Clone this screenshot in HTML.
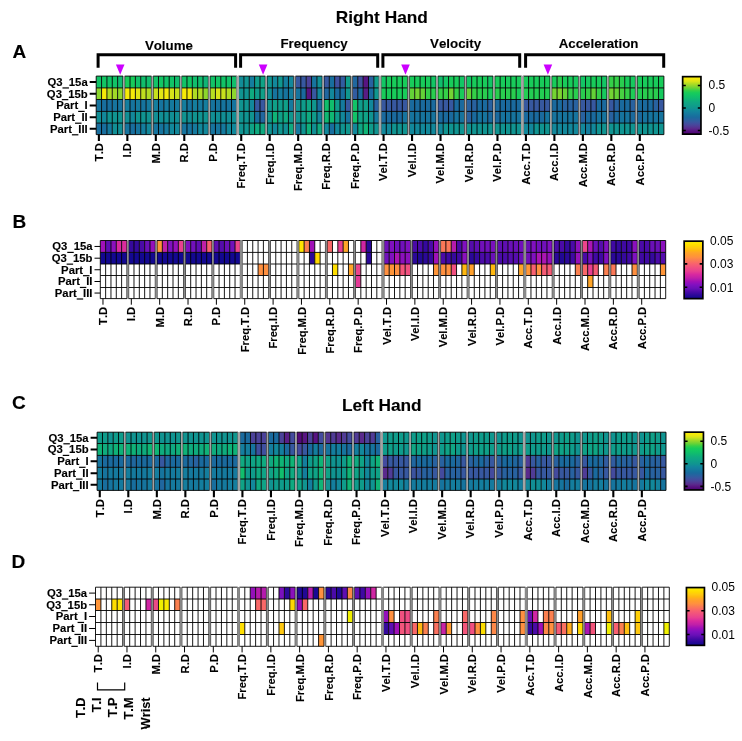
<!DOCTYPE html>
<html><head><meta charset="utf-8"><title>Heatmaps</title>
<style>html,body{margin:0;padding:0;background:#fff}svg{display:block;will-change:transform}text{fill:#000;font-kerning:none}text[font-weight=bold]{stroke:#000;stroke-width:0.12px}</style>
</head><body>
<svg width="742" height="741" viewBox="0 0 742 741">
<rect width="742" height="741" fill="#fff"/>
<text x="381.8" y="23.3" text-anchor="middle" font-size="17.3" font-weight="bold" font-family="Liberation Sans, sans-serif">Right Hand</text>
<text x="381.8" y="410.6" text-anchor="middle" font-size="17.3" font-weight="bold" font-family="Liberation Sans, sans-serif">Left Hand</text>
<text x="12.4" y="57.7" font-size="19" font-weight="bold" font-family="Liberation Sans, sans-serif">A</text>
<text x="12.5" y="227.8" font-size="19" font-weight="bold" font-family="Liberation Sans, sans-serif">B</text>
<text x="11.9" y="408.5" font-size="19" font-weight="bold" font-family="Liberation Sans, sans-serif">C</text>
<text x="11.4" y="568.0" font-size="19" font-weight="bold" font-family="Liberation Sans, sans-serif">D</text>
<path d="M98.1 67.7V54.8H235.6V67.7" stroke="#000" stroke-width="3.0" fill="none"/><text x="168.9" y="49.8" text-anchor="middle" font-size="13.3" font-weight="bold" font-family="Liberation Sans, sans-serif">Volume</text>
<path d="M240.6 67.7V54.8H377.7V67.7" stroke="#000" stroke-width="3.0" fill="none"/><text x="314.1" y="48.2" text-anchor="middle" font-size="13.3" font-weight="bold" font-family="Liberation Sans, sans-serif">Frequency</text>
<path d="M382.9 67.7V54.8H519.7V67.7" stroke="#000" stroke-width="3.0" fill="none"/><text x="455.6" y="48.2" text-anchor="middle" font-size="13.3" font-weight="bold" font-family="Liberation Sans, sans-serif">Velocity</text>
<path d="M525.6 67.7V54.8H663.7V67.7" stroke="#000" stroke-width="3.0" fill="none"/><text x="598.6" y="48.2" text-anchor="middle" font-size="13.3" font-weight="bold" font-family="Liberation Sans, sans-serif">Acceleration</text>
<path d="M115.9 64.5H124.5L120.2 74.7Z" fill="#cc00ff"/>
<path d="M258.8 64.5H267.4L263.1 74.7Z" fill="#cc00ff"/>
<path d="M401.2 64.5H409.8L405.5 74.7Z" fill="#cc00ff"/>
<path d="M543.6 64.5H552.2L547.9 74.7Z" fill="#cc00ff"/>
<rect x="96.2" y="76.1" width="5.35" height="11.8" fill="#11c367"/>
<rect x="101.55" y="76.1" width="5.35" height="11.8" fill="#12c664"/>
<rect x="106.91" y="76.1" width="10.71" height="11.8" fill="#11c367"/>
<rect x="117.62" y="76.1" width="5.35" height="11.8" fill="#10ba70"/>
<rect x="96.2" y="87.9" width="5.35" height="11.6" fill="#8cd62d"/>
<rect x="101.55" y="87.9" width="5.35" height="11.6" fill="#f6ea09"/>
<rect x="106.91" y="87.9" width="5.35" height="11.6" fill="#afdc23"/>
<rect x="112.26" y="87.9" width="5.35" height="11.6" fill="#a1da27"/>
<rect x="117.62" y="87.9" width="5.35" height="11.6" fill="#8cd62d"/>
<rect x="96.2" y="99.5" width="5.35" height="11.9" fill="#16749e"/>
<rect x="101.55" y="99.5" width="10.71" height="11.9" fill="#186e9e"/>
<rect x="112.26" y="99.5" width="10.71" height="11.9" fill="#16749e"/>
<rect x="96.2" y="111.4" width="5.35" height="11.7" fill="#118f95"/>
<rect x="101.55" y="111.4" width="5.35" height="11.7" fill="#12889b"/>
<rect x="106.91" y="111.4" width="16.06" height="11.7" fill="#109491"/>
<rect x="96.2" y="123.1" width="10.71" height="11.5" fill="#186e9e"/>
<rect x="106.91" y="123.1" width="5.35" height="11.5" fill="#157a9e"/>
<rect x="112.26" y="123.1" width="10.71" height="11.5" fill="#118f95"/>
<rect x="124.67" y="76.1" width="10.71" height="11.8" fill="#18cc5a"/>
<rect x="135.38" y="76.1" width="5.35" height="11.8" fill="#11c367"/>
<rect x="140.73" y="76.1" width="10.71" height="11.8" fill="#10be6c"/>
<rect x="124.67" y="87.9" width="10.71" height="11.6" fill="#f6ea09"/>
<rect x="135.38" y="87.9" width="5.35" height="11.6" fill="#e1e615"/>
<rect x="140.73" y="87.9" width="5.35" height="11.6" fill="#bfdf1f"/>
<rect x="146.09" y="87.9" width="5.35" height="11.6" fill="#afdc23"/>
<rect x="124.67" y="99.5" width="5.35" height="11.9" fill="#147e9e"/>
<rect x="130.02" y="99.5" width="5.35" height="11.9" fill="#16749e"/>
<rect x="135.38" y="99.5" width="5.35" height="11.9" fill="#157a9e"/>
<rect x="140.73" y="99.5" width="5.35" height="11.9" fill="#16749e"/>
<rect x="146.09" y="99.5" width="5.35" height="11.9" fill="#157a9e"/>
<rect x="124.67" y="111.4" width="5.35" height="11.7" fill="#118f95"/>
<rect x="130.02" y="111.4" width="5.35" height="11.7" fill="#12889b"/>
<rect x="135.38" y="111.4" width="16.06" height="11.7" fill="#109491"/>
<rect x="124.67" y="123.1" width="5.35" height="11.5" fill="#16749e"/>
<rect x="130.02" y="123.1" width="5.35" height="11.5" fill="#186e9e"/>
<rect x="135.38" y="123.1" width="5.35" height="11.5" fill="#16749e"/>
<rect x="140.73" y="123.1" width="5.35" height="11.5" fill="#147e9e"/>
<rect x="146.09" y="123.1" width="5.35" height="11.5" fill="#12889b"/>
<rect x="153.14" y="76.1" width="5.35" height="11.8" fill="#11c367"/>
<rect x="158.49" y="76.1" width="5.35" height="11.8" fill="#12c664"/>
<rect x="163.85" y="76.1" width="10.71" height="11.8" fill="#11c367"/>
<rect x="174.56" y="76.1" width="5.35" height="11.8" fill="#10be6c"/>
<rect x="153.14" y="87.9" width="5.35" height="11.6" fill="#c7e11d"/>
<rect x="158.49" y="87.9" width="5.35" height="11.6" fill="#e1e615"/>
<rect x="163.85" y="87.9" width="5.35" height="11.6" fill="#f2e90d"/>
<rect x="169.2" y="87.9" width="5.35" height="11.6" fill="#d7e419"/>
<rect x="174.56" y="87.9" width="5.35" height="11.6" fill="#c7e11d"/>
<rect x="153.14" y="99.5" width="5.35" height="11.9" fill="#147e9e"/>
<rect x="158.49" y="99.5" width="5.35" height="11.9" fill="#16749e"/>
<rect x="163.85" y="99.5" width="16.06" height="11.9" fill="#157a9e"/>
<rect x="153.14" y="111.4" width="26.77" height="11.7" fill="#118f95"/>
<rect x="153.14" y="123.1" width="10.71" height="11.5" fill="#16749e"/>
<rect x="163.85" y="123.1" width="5.35" height="11.5" fill="#157a9e"/>
<rect x="169.2" y="123.1" width="10.71" height="11.5" fill="#12889b"/>
<rect x="181.61" y="76.1" width="5.35" height="11.8" fill="#11c367"/>
<rect x="186.96" y="76.1" width="5.35" height="11.8" fill="#12c664"/>
<rect x="192.32" y="76.1" width="10.71" height="11.8" fill="#10be6c"/>
<rect x="203.03" y="76.1" width="5.35" height="11.8" fill="#0fb476"/>
<rect x="181.61" y="87.9" width="5.35" height="11.6" fill="#f6ea09"/>
<rect x="186.96" y="87.9" width="5.35" height="11.6" fill="#f2e90d"/>
<rect x="192.32" y="87.9" width="10.71" height="11.6" fill="#afdc23"/>
<rect x="203.03" y="87.9" width="5.35" height="11.6" fill="#8cd62d"/>
<rect x="181.61" y="99.5" width="5.35" height="11.9" fill="#147e9e"/>
<rect x="186.96" y="99.5" width="5.35" height="11.9" fill="#16749e"/>
<rect x="192.32" y="99.5" width="5.35" height="11.9" fill="#147e9e"/>
<rect x="197.67" y="99.5" width="5.35" height="11.9" fill="#157a9e"/>
<rect x="203.03" y="99.5" width="5.35" height="11.9" fill="#147e9e"/>
<rect x="181.61" y="111.4" width="5.35" height="11.7" fill="#109491"/>
<rect x="186.96" y="111.4" width="5.35" height="11.7" fill="#118f95"/>
<rect x="192.32" y="111.4" width="16.06" height="11.7" fill="#109491"/>
<rect x="181.61" y="123.1" width="10.71" height="11.5" fill="#16749e"/>
<rect x="192.32" y="123.1" width="5.35" height="11.5" fill="#157a9e"/>
<rect x="197.67" y="123.1" width="10.71" height="11.5" fill="#12889b"/>
<rect x="210.08" y="76.1" width="5.35" height="11.8" fill="#11c367"/>
<rect x="215.43" y="76.1" width="5.35" height="11.8" fill="#12c664"/>
<rect x="220.79" y="76.1" width="10.71" height="11.8" fill="#11c367"/>
<rect x="231.5" y="76.1" width="5.35" height="11.8" fill="#10be6c"/>
<rect x="210.08" y="87.9" width="5.35" height="11.6" fill="#b7de21"/>
<rect x="215.43" y="87.9" width="5.35" height="11.6" fill="#d7e419"/>
<rect x="220.79" y="87.9" width="5.35" height="11.6" fill="#c7e11d"/>
<rect x="226.14" y="87.9" width="5.35" height="11.6" fill="#afdc23"/>
<rect x="231.5" y="87.9" width="5.35" height="11.6" fill="#8cd62d"/>
<rect x="210.08" y="99.5" width="26.77" height="11.9" fill="#16749e"/>
<rect x="210.08" y="111.4" width="26.77" height="11.7" fill="#118f95"/>
<rect x="210.08" y="123.1" width="10.71" height="11.5" fill="#16749e"/>
<rect x="220.79" y="123.1" width="5.35" height="11.5" fill="#157a9e"/>
<rect x="226.14" y="123.1" width="10.71" height="11.5" fill="#12889b"/>
<rect x="238.55" y="76.1" width="5.35" height="11.8" fill="#118d97"/>
<rect x="243.9" y="76.1" width="5.35" height="11.8" fill="#109491"/>
<rect x="249.26" y="76.1" width="5.35" height="11.8" fill="#147e9e"/>
<rect x="254.61" y="76.1" width="5.35" height="11.8" fill="#0f9c8b"/>
<rect x="259.97" y="76.1" width="5.35" height="11.8" fill="#0fa386"/>
<rect x="238.55" y="87.9" width="10.71" height="11.6" fill="#109491"/>
<rect x="249.26" y="87.9" width="5.35" height="11.6" fill="#0faa80"/>
<rect x="254.61" y="87.9" width="5.35" height="11.6" fill="#0f9c8b"/>
<rect x="259.97" y="87.9" width="5.35" height="11.6" fill="#0fa088"/>
<rect x="238.55" y="99.5" width="10.71" height="11.9" fill="#109491"/>
<rect x="249.26" y="99.5" width="5.35" height="11.9" fill="#12889b"/>
<rect x="254.61" y="99.5" width="10.71" height="11.9" fill="#3758a0"/>
<rect x="238.55" y="111.4" width="16.06" height="11.7" fill="#109491"/>
<rect x="254.61" y="111.4" width="5.35" height="11.7" fill="#186e9e"/>
<rect x="259.97" y="111.4" width="5.35" height="11.7" fill="#20679f"/>
<rect x="238.55" y="123.1" width="10.71" height="11.5" fill="#109491"/>
<rect x="249.26" y="123.1" width="5.35" height="11.5" fill="#0fa386"/>
<rect x="254.61" y="123.1" width="10.71" height="11.5" fill="#0faa80"/>
<rect x="267.02" y="76.1" width="5.35" height="11.8" fill="#109491"/>
<rect x="272.37" y="76.1" width="5.35" height="11.8" fill="#12889b"/>
<rect x="277.73" y="76.1" width="5.35" height="11.8" fill="#10978f"/>
<rect x="283.08" y="76.1" width="5.35" height="11.8" fill="#147e9e"/>
<rect x="288.44" y="76.1" width="5.35" height="11.8" fill="#12889b"/>
<rect x="267.02" y="87.9" width="5.35" height="11.6" fill="#118f95"/>
<rect x="272.37" y="87.9" width="5.35" height="11.6" fill="#16749e"/>
<rect x="277.73" y="87.9" width="5.35" height="11.6" fill="#147e9e"/>
<rect x="283.08" y="87.9" width="5.35" height="11.6" fill="#16749e"/>
<rect x="288.44" y="87.9" width="5.35" height="11.6" fill="#147e9e"/>
<rect x="267.02" y="99.5" width="5.35" height="11.9" fill="#10978f"/>
<rect x="272.37" y="99.5" width="5.35" height="11.9" fill="#0fa088"/>
<rect x="277.73" y="99.5" width="5.35" height="11.9" fill="#0f9c8b"/>
<rect x="283.08" y="99.5" width="5.35" height="11.9" fill="#0fa088"/>
<rect x="288.44" y="99.5" width="5.35" height="11.9" fill="#157a9e"/>
<rect x="267.02" y="111.4" width="5.35" height="11.7" fill="#10978f"/>
<rect x="272.37" y="111.4" width="5.35" height="11.7" fill="#0fb476"/>
<rect x="277.73" y="111.4" width="5.35" height="11.7" fill="#0fa088"/>
<rect x="283.08" y="111.4" width="5.35" height="11.7" fill="#0faa80"/>
<rect x="288.44" y="111.4" width="5.35" height="11.7" fill="#10978f"/>
<rect x="267.02" y="123.1" width="5.35" height="11.5" fill="#109491"/>
<rect x="272.37" y="123.1" width="5.35" height="11.5" fill="#12889b"/>
<rect x="277.73" y="123.1" width="5.35" height="11.5" fill="#10978f"/>
<rect x="283.08" y="123.1" width="5.35" height="11.5" fill="#118f95"/>
<rect x="288.44" y="123.1" width="5.35" height="11.5" fill="#0faa80"/>
<rect x="295.49" y="76.1" width="10.71" height="11.8" fill="#3758a0"/>
<rect x="306.2" y="76.1" width="5.35" height="11.8" fill="#4b4299"/>
<rect x="311.55" y="76.1" width="5.35" height="11.8" fill="#16749e"/>
<rect x="316.91" y="76.1" width="5.35" height="11.8" fill="#118f95"/>
<rect x="295.49" y="87.9" width="5.35" height="11.6" fill="#16749e"/>
<rect x="300.84" y="87.9" width="5.35" height="11.6" fill="#1a6a9e"/>
<rect x="306.2" y="87.9" width="5.35" height="11.6" fill="#581482"/>
<rect x="311.55" y="87.9" width="5.35" height="11.6" fill="#3758a0"/>
<rect x="316.91" y="87.9" width="5.35" height="11.6" fill="#12889b"/>
<rect x="295.49" y="99.5" width="5.35" height="11.9" fill="#109491"/>
<rect x="300.84" y="99.5" width="5.35" height="11.9" fill="#0f9c8b"/>
<rect x="306.2" y="99.5" width="5.35" height="11.9" fill="#0fa684"/>
<rect x="311.55" y="99.5" width="5.35" height="11.9" fill="#10978f"/>
<rect x="316.91" y="99.5" width="5.35" height="11.9" fill="#186e9e"/>
<rect x="295.49" y="111.4" width="5.35" height="11.7" fill="#109491"/>
<rect x="300.84" y="111.4" width="5.35" height="11.7" fill="#0f9c8b"/>
<rect x="306.2" y="111.4" width="5.35" height="11.7" fill="#0faa80"/>
<rect x="311.55" y="111.4" width="5.35" height="11.7" fill="#0f9c8b"/>
<rect x="316.91" y="111.4" width="5.35" height="11.7" fill="#12889b"/>
<rect x="295.49" y="123.1" width="5.35" height="11.5" fill="#157a9e"/>
<rect x="300.84" y="123.1" width="5.35" height="11.5" fill="#109491"/>
<rect x="306.2" y="123.1" width="5.35" height="11.5" fill="#0fb07a"/>
<rect x="311.55" y="123.1" width="5.35" height="11.5" fill="#118f95"/>
<rect x="316.91" y="123.1" width="5.35" height="11.5" fill="#0faa80"/>
<rect x="323.96" y="76.1" width="5.35" height="11.8" fill="#3758a0"/>
<rect x="329.31" y="76.1" width="5.35" height="11.8" fill="#186e9e"/>
<rect x="334.67" y="76.1" width="5.35" height="11.8" fill="#3f509f"/>
<rect x="340.02" y="76.1" width="5.35" height="11.8" fill="#315ca0"/>
<rect x="345.38" y="76.1" width="5.35" height="11.8" fill="#0f9c8b"/>
<rect x="323.96" y="87.9" width="5.35" height="11.6" fill="#20679f"/>
<rect x="329.31" y="87.9" width="5.35" height="11.6" fill="#12889b"/>
<rect x="334.67" y="87.9" width="5.35" height="11.6" fill="#1a6a9e"/>
<rect x="340.02" y="87.9" width="5.35" height="11.6" fill="#186e9e"/>
<rect x="345.38" y="87.9" width="5.35" height="11.6" fill="#10978f"/>
<rect x="323.96" y="99.5" width="10.71" height="11.9" fill="#10be6c"/>
<rect x="334.67" y="99.5" width="5.35" height="11.9" fill="#0f9c8b"/>
<rect x="340.02" y="99.5" width="5.35" height="11.9" fill="#157a9e"/>
<rect x="345.38" y="99.5" width="5.35" height="11.9" fill="#3758a0"/>
<rect x="323.96" y="111.4" width="10.71" height="11.7" fill="#0fb872"/>
<rect x="334.67" y="111.4" width="5.35" height="11.7" fill="#0f9c8b"/>
<rect x="340.02" y="111.4" width="5.35" height="11.7" fill="#12889b"/>
<rect x="345.38" y="111.4" width="5.35" height="11.7" fill="#16749e"/>
<rect x="323.96" y="123.1" width="5.35" height="11.5" fill="#12889b"/>
<rect x="329.31" y="123.1" width="5.35" height="11.5" fill="#186e9e"/>
<rect x="334.67" y="123.1" width="5.35" height="11.5" fill="#12889b"/>
<rect x="340.02" y="123.1" width="5.35" height="11.5" fill="#109491"/>
<rect x="345.38" y="123.1" width="5.35" height="11.5" fill="#10978f"/>
<rect x="352.43" y="76.1" width="5.35" height="11.8" fill="#20679f"/>
<rect x="357.78" y="76.1" width="5.35" height="11.8" fill="#3f509f"/>
<rect x="363.14" y="76.1" width="5.35" height="11.8" fill="#581482"/>
<rect x="368.49" y="76.1" width="5.35" height="11.8" fill="#2862a0"/>
<rect x="373.85" y="76.1" width="5.35" height="11.8" fill="#0f9c8b"/>
<rect x="352.43" y="87.9" width="5.35" height="11.6" fill="#315ca0"/>
<rect x="357.78" y="87.9" width="5.35" height="11.6" fill="#1a6a9e"/>
<rect x="363.14" y="87.9" width="5.35" height="11.6" fill="#591d86"/>
<rect x="368.49" y="87.9" width="5.35" height="11.6" fill="#1a6a9e"/>
<rect x="373.85" y="87.9" width="5.35" height="11.6" fill="#10978f"/>
<rect x="352.43" y="99.5" width="5.35" height="11.9" fill="#11c367"/>
<rect x="357.78" y="99.5" width="5.35" height="11.9" fill="#0f9c8b"/>
<rect x="363.14" y="99.5" width="5.35" height="11.9" fill="#0fa088"/>
<rect x="368.49" y="99.5" width="5.35" height="11.9" fill="#12889b"/>
<rect x="373.85" y="99.5" width="5.35" height="11.9" fill="#2862a0"/>
<rect x="352.43" y="111.4" width="5.35" height="11.7" fill="#11c367"/>
<rect x="357.78" y="111.4" width="10.71" height="11.7" fill="#0fa386"/>
<rect x="368.49" y="111.4" width="5.35" height="11.7" fill="#109491"/>
<rect x="373.85" y="111.4" width="5.35" height="11.7" fill="#157a9e"/>
<rect x="352.43" y="123.1" width="5.35" height="11.5" fill="#12889b"/>
<rect x="357.78" y="123.1" width="5.35" height="11.5" fill="#0fa684"/>
<rect x="363.14" y="123.1" width="5.35" height="11.5" fill="#0fb476"/>
<rect x="368.49" y="123.1" width="5.35" height="11.5" fill="#0f9c8b"/>
<rect x="373.85" y="123.1" width="5.35" height="11.5" fill="#109491"/>
<rect x="380.9" y="76.1" width="5.35" height="11.8" fill="#12c664"/>
<rect x="386.25" y="76.1" width="21.42" height="11.8" fill="#18cc5a"/>
<rect x="380.9" y="87.9" width="26.77" height="11.6" fill="#18cc5a"/>
<rect x="380.9" y="99.5" width="26.77" height="11.9" fill="#3758a0"/>
<rect x="380.9" y="111.4" width="21.42" height="11.7" fill="#1a6a9e"/>
<rect x="402.32" y="111.4" width="5.35" height="11.7" fill="#16749e"/>
<rect x="380.9" y="123.1" width="10.71" height="11.5" fill="#12889b"/>
<rect x="391.61" y="123.1" width="16.06" height="11.5" fill="#109491"/>
<rect x="409.37" y="76.1" width="21.42" height="11.8" fill="#18cc5a"/>
<rect x="430.79" y="76.1" width="5.35" height="11.8" fill="#12c664"/>
<rect x="409.37" y="87.9" width="5.35" height="11.6" fill="#64d237"/>
<rect x="414.72" y="87.9" width="5.35" height="11.6" fill="#74d433"/>
<rect x="420.08" y="87.9" width="5.35" height="11.6" fill="#64d237"/>
<rect x="425.43" y="87.9" width="5.35" height="11.6" fill="#34d048"/>
<rect x="430.79" y="87.9" width="5.35" height="11.6" fill="#29ce4f"/>
<rect x="409.37" y="99.5" width="26.77" height="11.9" fill="#1a6a9e"/>
<rect x="409.37" y="111.4" width="26.77" height="11.7" fill="#16749e"/>
<rect x="409.37" y="123.1" width="26.77" height="11.5" fill="#12889b"/>
<rect x="437.84" y="76.1" width="5.35" height="11.8" fill="#10be6c"/>
<rect x="443.19" y="76.1" width="5.35" height="11.8" fill="#12c664"/>
<rect x="448.55" y="76.1" width="10.71" height="11.8" fill="#18cc5a"/>
<rect x="459.26" y="76.1" width="5.35" height="11.8" fill="#12c664"/>
<rect x="437.84" y="87.9" width="10.71" height="11.6" fill="#34d048"/>
<rect x="448.55" y="87.9" width="5.35" height="11.6" fill="#74d433"/>
<rect x="453.9" y="87.9" width="5.35" height="11.6" fill="#34d048"/>
<rect x="459.26" y="87.9" width="5.35" height="11.6" fill="#18cc5a"/>
<rect x="437.84" y="99.5" width="16.06" height="11.9" fill="#3758a0"/>
<rect x="453.9" y="99.5" width="10.71" height="11.9" fill="#1a6a9e"/>
<rect x="437.84" y="111.4" width="16.06" height="11.7" fill="#1a6a9e"/>
<rect x="453.9" y="111.4" width="10.71" height="11.7" fill="#16749e"/>
<rect x="437.84" y="123.1" width="5.35" height="11.5" fill="#12889b"/>
<rect x="443.19" y="123.1" width="21.42" height="11.5" fill="#109491"/>
<rect x="466.31" y="76.1" width="5.35" height="11.8" fill="#12c664"/>
<rect x="471.66" y="76.1" width="16.06" height="11.8" fill="#18cc5a"/>
<rect x="487.73" y="76.1" width="5.35" height="11.8" fill="#12c664"/>
<rect x="466.31" y="87.9" width="5.35" height="11.6" fill="#64d237"/>
<rect x="471.66" y="87.9" width="5.35" height="11.6" fill="#34d048"/>
<rect x="477.02" y="87.9" width="10.71" height="11.6" fill="#29ce4f"/>
<rect x="487.73" y="87.9" width="5.35" height="11.6" fill="#18cc5a"/>
<rect x="466.31" y="99.5" width="10.71" height="11.9" fill="#2862a0"/>
<rect x="477.02" y="99.5" width="10.71" height="11.9" fill="#1a6a9e"/>
<rect x="487.73" y="99.5" width="5.35" height="11.9" fill="#2862a0"/>
<rect x="466.31" y="111.4" width="5.35" height="11.7" fill="#2862a0"/>
<rect x="471.66" y="111.4" width="5.35" height="11.7" fill="#1a6a9e"/>
<rect x="477.02" y="111.4" width="10.71" height="11.7" fill="#16749e"/>
<rect x="487.73" y="111.4" width="5.35" height="11.7" fill="#1a6a9e"/>
<rect x="466.31" y="123.1" width="26.77" height="11.5" fill="#109491"/>
<rect x="494.78" y="76.1" width="26.77" height="11.8" fill="#18cc5a"/>
<rect x="494.78" y="87.9" width="21.42" height="11.6" fill="#29ce4f"/>
<rect x="516.2" y="87.9" width="5.35" height="11.6" fill="#18cc5a"/>
<rect x="494.78" y="99.5" width="26.77" height="11.9" fill="#1a6a9e"/>
<rect x="494.78" y="111.4" width="5.35" height="11.7" fill="#1a6a9e"/>
<rect x="500.13" y="111.4" width="21.42" height="11.7" fill="#16749e"/>
<rect x="494.78" y="123.1" width="26.77" height="11.5" fill="#109491"/>
<rect x="523.25" y="76.1" width="26.77" height="11.8" fill="#18cc5a"/>
<rect x="523.25" y="87.9" width="26.77" height="11.6" fill="#23ce53"/>
<rect x="523.25" y="99.5" width="26.77" height="11.9" fill="#3758a0"/>
<rect x="523.25" y="111.4" width="21.42" height="11.7" fill="#1a6a9e"/>
<rect x="544.67" y="111.4" width="5.35" height="11.7" fill="#16749e"/>
<rect x="523.25" y="123.1" width="10.71" height="11.5" fill="#12889b"/>
<rect x="533.96" y="123.1" width="16.06" height="11.5" fill="#109491"/>
<rect x="551.72" y="76.1" width="5.35" height="11.8" fill="#18cc5a"/>
<rect x="557.07" y="76.1" width="5.35" height="11.8" fill="#29ce4f"/>
<rect x="562.43" y="76.1" width="10.71" height="11.8" fill="#18cc5a"/>
<rect x="573.14" y="76.1" width="5.35" height="11.8" fill="#16ca5e"/>
<rect x="551.72" y="87.9" width="5.35" height="11.6" fill="#74d433"/>
<rect x="557.07" y="87.9" width="5.35" height="11.6" fill="#7cd431"/>
<rect x="562.43" y="87.9" width="5.35" height="11.6" fill="#64d237"/>
<rect x="567.78" y="87.9" width="5.35" height="11.6" fill="#34d048"/>
<rect x="573.14" y="87.9" width="5.35" height="11.6" fill="#29ce4f"/>
<rect x="551.72" y="99.5" width="10.71" height="11.9" fill="#1a6a9e"/>
<rect x="562.43" y="99.5" width="16.06" height="11.9" fill="#2862a0"/>
<rect x="551.72" y="111.4" width="26.77" height="11.7" fill="#16749e"/>
<rect x="551.72" y="123.1" width="26.77" height="11.5" fill="#12889b"/>
<rect x="580.19" y="76.1" width="5.35" height="11.8" fill="#12c664"/>
<rect x="585.54" y="76.1" width="5.35" height="11.8" fill="#16ca5e"/>
<rect x="590.9" y="76.1" width="10.71" height="11.8" fill="#18cc5a"/>
<rect x="601.61" y="76.1" width="5.35" height="11.8" fill="#12c664"/>
<rect x="580.19" y="87.9" width="5.35" height="11.6" fill="#29ce4f"/>
<rect x="585.54" y="87.9" width="5.35" height="11.6" fill="#34d048"/>
<rect x="590.9" y="87.9" width="5.35" height="11.6" fill="#64d237"/>
<rect x="596.25" y="87.9" width="5.35" height="11.6" fill="#34d048"/>
<rect x="601.61" y="87.9" width="5.35" height="11.6" fill="#16ca5e"/>
<rect x="580.19" y="99.5" width="16.06" height="11.9" fill="#3758a0"/>
<rect x="596.25" y="99.5" width="10.71" height="11.9" fill="#1a6a9e"/>
<rect x="580.19" y="111.4" width="5.35" height="11.7" fill="#2862a0"/>
<rect x="585.54" y="111.4" width="10.71" height="11.7" fill="#1a6a9e"/>
<rect x="596.25" y="111.4" width="10.71" height="11.7" fill="#16749e"/>
<rect x="580.19" y="123.1" width="5.35" height="11.5" fill="#12889b"/>
<rect x="585.54" y="123.1" width="5.35" height="11.5" fill="#147e9e"/>
<rect x="590.9" y="123.1" width="5.35" height="11.5" fill="#12889b"/>
<rect x="596.25" y="123.1" width="10.71" height="11.5" fill="#109491"/>
<rect x="608.66" y="76.1" width="10.71" height="11.8" fill="#34d048"/>
<rect x="619.37" y="76.1" width="5.35" height="11.8" fill="#29ce4f"/>
<rect x="624.72" y="76.1" width="5.35" height="11.8" fill="#18cc5a"/>
<rect x="630.08" y="76.1" width="5.35" height="11.8" fill="#16ca5e"/>
<rect x="608.66" y="87.9" width="5.35" height="11.6" fill="#74d433"/>
<rect x="614.01" y="87.9" width="5.35" height="11.6" fill="#64d237"/>
<rect x="619.37" y="87.9" width="5.35" height="11.6" fill="#47d141"/>
<rect x="624.72" y="87.9" width="5.35" height="11.6" fill="#34d048"/>
<rect x="630.08" y="87.9" width="5.35" height="11.6" fill="#1ecd56"/>
<rect x="608.66" y="99.5" width="5.35" height="11.9" fill="#3758a0"/>
<rect x="614.01" y="99.5" width="5.35" height="11.9" fill="#2862a0"/>
<rect x="619.37" y="99.5" width="10.71" height="11.9" fill="#1a6a9e"/>
<rect x="630.08" y="99.5" width="5.35" height="11.9" fill="#2862a0"/>
<rect x="608.66" y="111.4" width="5.35" height="11.7" fill="#2862a0"/>
<rect x="614.01" y="111.4" width="5.35" height="11.7" fill="#1a6a9e"/>
<rect x="619.37" y="111.4" width="10.71" height="11.7" fill="#16749e"/>
<rect x="630.08" y="111.4" width="5.35" height="11.7" fill="#1a6a9e"/>
<rect x="608.66" y="123.1" width="26.77" height="11.5" fill="#109491"/>
<rect x="637.13" y="76.1" width="26.77" height="11.8" fill="#18cc5a"/>
<rect x="637.13" y="87.9" width="5.35" height="11.6" fill="#23ce53"/>
<rect x="642.48" y="87.9" width="16.06" height="11.6" fill="#29ce4f"/>
<rect x="658.55" y="87.9" width="5.35" height="11.6" fill="#16ca5e"/>
<rect x="637.13" y="99.5" width="16.06" height="11.9" fill="#1a6a9e"/>
<rect x="653.19" y="99.5" width="5.35" height="11.9" fill="#2862a0"/>
<rect x="658.55" y="99.5" width="5.35" height="11.9" fill="#3758a0"/>
<rect x="637.13" y="111.4" width="5.35" height="11.7" fill="#1a6a9e"/>
<rect x="642.48" y="111.4" width="21.42" height="11.7" fill="#16749e"/>
<rect x="637.13" y="123.1" width="26.77" height="11.5" fill="#109491"/>
<path d="M96.2 76.1V134.6M101.55 76.1V134.6M106.91 76.1V134.6M112.26 76.1V134.6M117.62 76.1V134.6M122.97 76.1V134.6M96.2 76.1H122.97M96.2 87.9H122.97M96.2 99.5H122.97M96.2 111.4H122.97M96.2 123.1H122.97M96.2 134.6H122.97M124.67 76.1V134.6M130.02 76.1V134.6M135.38 76.1V134.6M140.73 76.1V134.6M146.09 76.1V134.6M151.44 76.1V134.6M124.67 76.1H151.44M124.67 87.9H151.44M124.67 99.5H151.44M124.67 111.4H151.44M124.67 123.1H151.44M124.67 134.6H151.44M153.14 76.1V134.6M158.49 76.1V134.6M163.85 76.1V134.6M169.2 76.1V134.6M174.56 76.1V134.6M179.91 76.1V134.6M153.14 76.1H179.91M153.14 87.9H179.91M153.14 99.5H179.91M153.14 111.4H179.91M153.14 123.1H179.91M153.14 134.6H179.91M181.61 76.1V134.6M186.96 76.1V134.6M192.32 76.1V134.6M197.67 76.1V134.6M203.03 76.1V134.6M208.38 76.1V134.6M181.61 76.1H208.38M181.61 87.9H208.38M181.61 99.5H208.38M181.61 111.4H208.38M181.61 123.1H208.38M181.61 134.6H208.38M210.08 76.1V134.6M215.43 76.1V134.6M220.79 76.1V134.6M226.14 76.1V134.6M231.5 76.1V134.6M236.85 76.1V134.6M210.08 76.1H236.85M210.08 87.9H236.85M210.08 99.5H236.85M210.08 111.4H236.85M210.08 123.1H236.85M210.08 134.6H236.85M238.55 76.1V134.6M243.9 76.1V134.6M249.26 76.1V134.6M254.61 76.1V134.6M259.97 76.1V134.6M265.32 76.1V134.6M238.55 76.1H265.32M238.55 87.9H265.32M238.55 99.5H265.32M238.55 111.4H265.32M238.55 123.1H265.32M238.55 134.6H265.32M267.02 76.1V134.6M272.37 76.1V134.6M277.73 76.1V134.6M283.08 76.1V134.6M288.44 76.1V134.6M293.79 76.1V134.6M267.02 76.1H293.79M267.02 87.9H293.79M267.02 99.5H293.79M267.02 111.4H293.79M267.02 123.1H293.79M267.02 134.6H293.79M295.49 76.1V134.6M300.84 76.1V134.6M306.2 76.1V134.6M311.55 76.1V134.6M316.91 76.1V134.6M322.26 76.1V134.6M295.49 76.1H322.26M295.49 87.9H322.26M295.49 99.5H322.26M295.49 111.4H322.26M295.49 123.1H322.26M295.49 134.6H322.26M323.96 76.1V134.6M329.31 76.1V134.6M334.67 76.1V134.6M340.02 76.1V134.6M345.38 76.1V134.6M350.73 76.1V134.6M323.96 76.1H350.73M323.96 87.9H350.73M323.96 99.5H350.73M323.96 111.4H350.73M323.96 123.1H350.73M323.96 134.6H350.73M352.43 76.1V134.6M357.78 76.1V134.6M363.14 76.1V134.6M368.49 76.1V134.6M373.85 76.1V134.6M379.2 76.1V134.6M352.43 76.1H379.2M352.43 87.9H379.2M352.43 99.5H379.2M352.43 111.4H379.2M352.43 123.1H379.2M352.43 134.6H379.2M380.9 76.1V134.6M386.25 76.1V134.6M391.61 76.1V134.6M396.96 76.1V134.6M402.32 76.1V134.6M407.67 76.1V134.6M380.9 76.1H407.67M380.9 87.9H407.67M380.9 99.5H407.67M380.9 111.4H407.67M380.9 123.1H407.67M380.9 134.6H407.67M409.37 76.1V134.6M414.72 76.1V134.6M420.08 76.1V134.6M425.43 76.1V134.6M430.79 76.1V134.6M436.14 76.1V134.6M409.37 76.1H436.14M409.37 87.9H436.14M409.37 99.5H436.14M409.37 111.4H436.14M409.37 123.1H436.14M409.37 134.6H436.14M437.84 76.1V134.6M443.19 76.1V134.6M448.55 76.1V134.6M453.9 76.1V134.6M459.26 76.1V134.6M464.61 76.1V134.6M437.84 76.1H464.61M437.84 87.9H464.61M437.84 99.5H464.61M437.84 111.4H464.61M437.84 123.1H464.61M437.84 134.6H464.61M466.31 76.1V134.6M471.66 76.1V134.6M477.02 76.1V134.6M482.37 76.1V134.6M487.73 76.1V134.6M493.08 76.1V134.6M466.31 76.1H493.08M466.31 87.9H493.08M466.31 99.5H493.08M466.31 111.4H493.08M466.31 123.1H493.08M466.31 134.6H493.08M494.78 76.1V134.6M500.13 76.1V134.6M505.49 76.1V134.6M510.84 76.1V134.6M516.2 76.1V134.6M521.55 76.1V134.6M494.78 76.1H521.55M494.78 87.9H521.55M494.78 99.5H521.55M494.78 111.4H521.55M494.78 123.1H521.55M494.78 134.6H521.55M523.25 76.1V134.6M528.6 76.1V134.6M533.96 76.1V134.6M539.31 76.1V134.6M544.67 76.1V134.6M550.02 76.1V134.6M523.25 76.1H550.02M523.25 87.9H550.02M523.25 99.5H550.02M523.25 111.4H550.02M523.25 123.1H550.02M523.25 134.6H550.02M551.72 76.1V134.6M557.07 76.1V134.6M562.43 76.1V134.6M567.78 76.1V134.6M573.14 76.1V134.6M578.49 76.1V134.6M551.72 76.1H578.49M551.72 87.9H578.49M551.72 99.5H578.49M551.72 111.4H578.49M551.72 123.1H578.49M551.72 134.6H578.49M580.19 76.1V134.6M585.54 76.1V134.6M590.9 76.1V134.6M596.25 76.1V134.6M601.61 76.1V134.6M606.96 76.1V134.6M580.19 76.1H606.96M580.19 87.9H606.96M580.19 99.5H606.96M580.19 111.4H606.96M580.19 123.1H606.96M580.19 134.6H606.96M608.66 76.1V134.6M614.01 76.1V134.6M619.37 76.1V134.6M624.72 76.1V134.6M630.08 76.1V134.6M635.43 76.1V134.6M608.66 76.1H635.43M608.66 87.9H635.43M608.66 99.5H635.43M608.66 111.4H635.43M608.66 123.1H635.43M608.66 134.6H635.43M637.13 76.1V134.6M642.48 76.1V134.6M647.84 76.1V134.6M653.19 76.1V134.6M658.55 76.1V134.6M663.9 76.1V134.6M637.13 76.1H663.9M637.13 87.9H663.9M637.13 99.5H663.9M637.13 111.4H663.9M637.13 123.1H663.9M637.13 134.6H663.9" stroke="#000" stroke-width="0.9" fill="none"/>
<path d="M123.82 76.1V134.6M152.29 76.1V134.6M180.76 76.1V134.6M209.23 76.1V134.6M237.7 76.1V134.6M266.17 76.1V134.6M294.64 76.1V134.6M323.11 76.1V134.6M351.58 76.1V134.6M380.05 76.1V134.6M408.52 76.1V134.6M436.99 76.1V134.6M465.46 76.1V134.6M493.93 76.1V134.6M522.4 76.1V134.6M550.87 76.1V134.6M579.34 76.1V134.6M607.81 76.1V134.6M636.28 76.1V134.6" stroke="#a4a4a4" stroke-width="1.7" fill="none"/>
<path d="M237.7 75.8V134.9M380.05 75.8V134.9M522.4 75.8V134.9" stroke="#a4a4a4" stroke-width="2.7" fill="none"/>
<text x="87.7" y="85.9" text-anchor="end" font-size="11.3" font-weight="bold" xml:space="preserve" style="white-space:pre" font-family="Liberation Sans, sans-serif">Q3  15a</text>
<rect x="62.46" y="87.35" width="6.48" height="1.2"/>
<text x="87.7" y="97.6" text-anchor="end" font-size="11.3" font-weight="bold" xml:space="preserve" style="white-space:pre" font-family="Liberation Sans, sans-serif">Q3  15b</text>
<rect x="61.84" y="99.05" width="6.48" height="1.2"/>
<text x="87.7" y="109.35" text-anchor="end" font-size="11.3" font-weight="bold" xml:space="preserve" style="white-space:pre" font-family="Liberation Sans, sans-serif">Part  I</text>
<rect x="78.18" y="110.8" width="6.48" height="1.2"/>
<text x="87.7" y="121.15" text-anchor="end" font-size="11.3" font-weight="bold" xml:space="preserve" style="white-space:pre" font-family="Liberation Sans, sans-serif">Part  II</text>
<rect x="75.04" y="122.6" width="6.48" height="1.2"/>
<text x="87.7" y="132.75" text-anchor="end" font-size="11.3" font-weight="bold" xml:space="preserve" style="white-space:pre" font-family="Liberation Sans, sans-serif">Part  III</text>
<rect x="71.9" y="134.2" width="6.48" height="1.2"/>
<text transform="translate(102.68 143.1) rotate(-90)" text-anchor="end" font-size="11.2" font-weight="bold" font-family="Liberation Sans, sans-serif">T.D</text>
<text transform="translate(131.15 143.1) rotate(-90)" text-anchor="end" font-size="11.2" font-weight="bold" font-family="Liberation Sans, sans-serif">I.D</text>
<text transform="translate(159.62 143.1) rotate(-90)" text-anchor="end" font-size="11.2" font-weight="bold" font-family="Liberation Sans, sans-serif">M.D</text>
<text transform="translate(188.09 143.1) rotate(-90)" text-anchor="end" font-size="11.2" font-weight="bold" font-family="Liberation Sans, sans-serif">R.D</text>
<text transform="translate(216.56 143.1) rotate(-90)" text-anchor="end" font-size="11.2" font-weight="bold" font-family="Liberation Sans, sans-serif">P.D</text>
<text transform="translate(245.03 143.1) rotate(-90)" text-anchor="end" font-size="11.2" font-weight="bold" font-family="Liberation Sans, sans-serif">Freq.T.D</text>
<text transform="translate(273.5 143.1) rotate(-90)" text-anchor="end" font-size="11.2" font-weight="bold" font-family="Liberation Sans, sans-serif">Freq.I.D</text>
<text transform="translate(301.97 143.1) rotate(-90)" text-anchor="end" font-size="11.2" font-weight="bold" font-family="Liberation Sans, sans-serif">Freq.M.D</text>
<text transform="translate(330.44 143.1) rotate(-90)" text-anchor="end" font-size="11.2" font-weight="bold" font-family="Liberation Sans, sans-serif">Freq.R.D</text>
<text transform="translate(358.91 143.1) rotate(-90)" text-anchor="end" font-size="11.2" font-weight="bold" font-family="Liberation Sans, sans-serif">Freq.P.D</text>
<text transform="translate(387.38 143.1) rotate(-90)" text-anchor="end" font-size="11.2" font-weight="bold" font-family="Liberation Sans, sans-serif">Vel.T.D</text>
<text transform="translate(415.85 143.1) rotate(-90)" text-anchor="end" font-size="11.2" font-weight="bold" font-family="Liberation Sans, sans-serif">Vel.I.D</text>
<text transform="translate(444.32 143.1) rotate(-90)" text-anchor="end" font-size="11.2" font-weight="bold" font-family="Liberation Sans, sans-serif">Vel.M.D</text>
<text transform="translate(472.79 143.1) rotate(-90)" text-anchor="end" font-size="11.2" font-weight="bold" font-family="Liberation Sans, sans-serif">Vel.R.D</text>
<text transform="translate(501.26 143.1) rotate(-90)" text-anchor="end" font-size="11.2" font-weight="bold" font-family="Liberation Sans, sans-serif">Vel.P.D</text>
<text transform="translate(529.73 143.1) rotate(-90)" text-anchor="end" font-size="11.2" font-weight="bold" font-family="Liberation Sans, sans-serif">Acc.T.D</text>
<text transform="translate(558.2 143.1) rotate(-90)" text-anchor="end" font-size="11.2" font-weight="bold" font-family="Liberation Sans, sans-serif">Acc.I.D</text>
<text transform="translate(586.67 143.1) rotate(-90)" text-anchor="end" font-size="11.2" font-weight="bold" font-family="Liberation Sans, sans-serif">Acc.M.D</text>
<text transform="translate(615.14 143.1) rotate(-90)" text-anchor="end" font-size="11.2" font-weight="bold" font-family="Liberation Sans, sans-serif">Acc.R.D</text>
<text transform="translate(643.61 143.1) rotate(-90)" text-anchor="end" font-size="11.2" font-weight="bold" font-family="Liberation Sans, sans-serif">Acc.P.D</text>
<path d="M89.7 82H96.2M89.7 93.7H96.2M89.7 105.45H96.2M89.7 117.25H96.2M89.7 128.85H96.2" stroke="#000" stroke-width="2.0" fill="none"/>
<path d="M98.88 134.6V140.9M127.35 134.6V140.9M155.82 134.6V140.9M184.29 134.6V140.9M212.76 134.6V140.9M241.23 134.6V140.9M269.7 134.6V140.9M298.17 134.6V140.9M326.64 134.6V140.9M355.11 134.6V140.9M383.58 134.6V140.9M412.05 134.6V140.9M440.52 134.6V140.9M468.99 134.6V140.9M497.46 134.6V140.9M525.93 134.6V140.9M554.4 134.6V140.9M582.87 134.6V140.9M611.34 134.6V140.9M639.81 134.6V140.9" stroke="#000" stroke-width="2.1" fill="none"/>
<rect x="100.3" y="240.5" width="5.33" height="11.9" fill="#a010b8"/>
<rect x="105.63" y="240.5" width="5.33" height="11.9" fill="#5f0eb3"/>
<rect x="110.96" y="240.5" width="5.33" height="11.9" fill="#8b10bd"/>
<rect x="116.29" y="240.5" width="5.33" height="11.9" fill="#d828a0"/>
<rect x="121.62" y="240.5" width="5.33" height="11.9" fill="#db2c9d"/>
<rect x="100.3" y="252.4" width="26.66" height="11.6" fill="#130891"/>
<rect x="128.66" y="240.5" width="10.66" height="11.9" fill="#35099d"/>
<rect x="139.32" y="240.5" width="5.33" height="11.9" fill="#4a0aa8"/>
<rect x="144.65" y="240.5" width="5.33" height="11.9" fill="#6a10b8"/>
<rect x="149.98" y="240.5" width="5.33" height="11.9" fill="#9510bb"/>
<rect x="128.66" y="252.4" width="26.66" height="11.6" fill="#130891"/>
<rect x="157.01" y="240.5" width="5.33" height="11.9" fill="#ff9538"/>
<rect x="162.34" y="240.5" width="5.33" height="11.9" fill="#c020a8"/>
<rect x="167.67" y="240.5" width="5.33" height="11.9" fill="#8010c0"/>
<rect x="173" y="240.5" width="5.33" height="11.9" fill="#9510bb"/>
<rect x="178.33" y="240.5" width="5.33" height="11.9" fill="#e84090"/>
<rect x="157.01" y="252.4" width="26.66" height="11.6" fill="#130891"/>
<rect x="185.37" y="240.5" width="5.33" height="11.9" fill="#8010c0"/>
<rect x="190.7" y="240.5" width="5.33" height="11.9" fill="#7110bb"/>
<rect x="196.03" y="240.5" width="5.33" height="11.9" fill="#5f0eb3"/>
<rect x="201.36" y="240.5" width="5.33" height="11.9" fill="#c020a8"/>
<rect x="206.69" y="240.5" width="5.33" height="11.9" fill="#f86070"/>
<rect x="185.37" y="252.4" width="26.66" height="11.6" fill="#130891"/>
<rect x="213.72" y="240.5" width="5.33" height="11.9" fill="#5f0eb3"/>
<rect x="219.05" y="240.5" width="5.33" height="11.9" fill="#550cad"/>
<rect x="224.38" y="240.5" width="5.33" height="11.9" fill="#6a10b8"/>
<rect x="229.71" y="240.5" width="5.33" height="11.9" fill="#7110bb"/>
<rect x="235.04" y="240.5" width="5.33" height="11.9" fill="#eb458b"/>
<rect x="213.72" y="252.4" width="26.66" height="11.6" fill="#130891"/>
<rect x="258.07" y="264" width="10.66" height="11.5" fill="#ff9040"/>
<rect x="298.79" y="240.5" width="5.33" height="11.9" fill="#ffe400"/>
<rect x="304.12" y="240.5" width="5.33" height="11.9" fill="#fb8050"/>
<rect x="309.45" y="240.5" width="5.33" height="11.9" fill="#a010b8"/>
<rect x="309.45" y="252.4" width="5.33" height="11.6" fill="#2a0898"/>
<rect x="314.78" y="252.4" width="5.33" height="11.6" fill="#ffd800"/>
<rect x="327.14" y="240.5" width="5.33" height="11.9" fill="#f96868"/>
<rect x="337.8" y="240.5" width="5.33" height="11.9" fill="#e84090"/>
<rect x="343.13" y="240.5" width="5.33" height="11.9" fill="#ffa528"/>
<rect x="332.47" y="264" width="5.33" height="11.5" fill="#ffde00"/>
<rect x="348.46" y="264" width="5.33" height="11.5" fill="#ffa528"/>
<rect x="360.83" y="240.5" width="5.33" height="11.9" fill="#d025a3"/>
<rect x="366.16" y="240.5" width="5.33" height="11.9" fill="#2a0898"/>
<rect x="366.16" y="252.4" width="5.33" height="11.6" fill="#2a0898"/>
<rect x="355.5" y="264" width="5.33" height="11.5" fill="#eb458b"/>
<rect x="355.5" y="275.5" width="5.33" height="12" fill="#e33895"/>
<rect x="383.85" y="240.5" width="5.33" height="11.9" fill="#7110bb"/>
<rect x="389.18" y="240.5" width="5.33" height="11.9" fill="#8010c0"/>
<rect x="394.51" y="240.5" width="10.66" height="11.9" fill="#7110bb"/>
<rect x="405.17" y="240.5" width="5.33" height="11.9" fill="#8010c0"/>
<rect x="383.85" y="252.4" width="5.33" height="11.6" fill="#7110bb"/>
<rect x="389.18" y="252.4" width="5.33" height="11.6" fill="#8010c0"/>
<rect x="394.51" y="252.4" width="5.33" height="11.6" fill="#ab15b3"/>
<rect x="399.84" y="252.4" width="10.66" height="11.6" fill="#8b10bd"/>
<rect x="383.85" y="264" width="5.33" height="11.5" fill="#ff9040"/>
<rect x="389.18" y="264" width="5.33" height="11.5" fill="#ff9538"/>
<rect x="394.51" y="264" width="5.33" height="11.5" fill="#ff9040"/>
<rect x="399.84" y="264" width="5.33" height="11.5" fill="#f3557b"/>
<rect x="405.17" y="264" width="5.33" height="11.5" fill="#f05080"/>
<rect x="412.21" y="240.5" width="10.66" height="11.9" fill="#4a0aa8"/>
<rect x="422.87" y="240.5" width="5.33" height="11.9" fill="#35099d"/>
<rect x="428.2" y="240.5" width="5.33" height="11.9" fill="#4a0aa8"/>
<rect x="433.53" y="240.5" width="5.33" height="11.9" fill="#9510bb"/>
<rect x="412.21" y="252.4" width="5.33" height="11.6" fill="#2a0898"/>
<rect x="417.54" y="252.4" width="5.33" height="11.6" fill="#210895"/>
<rect x="422.87" y="252.4" width="5.33" height="11.6" fill="#2a0898"/>
<rect x="428.2" y="252.4" width="5.33" height="11.6" fill="#35099d"/>
<rect x="433.53" y="252.4" width="5.33" height="11.6" fill="#a010b8"/>
<rect x="433.53" y="264" width="5.33" height="11.5" fill="#ff9538"/>
<rect x="440.56" y="240.5" width="10.66" height="11.9" fill="#fa7858"/>
<rect x="451.22" y="240.5" width="5.33" height="11.9" fill="#b51bad"/>
<rect x="456.55" y="240.5" width="5.33" height="11.9" fill="#4a0aa8"/>
<rect x="461.88" y="240.5" width="5.33" height="11.9" fill="#8010c0"/>
<rect x="440.56" y="252.4" width="5.33" height="11.6" fill="#4a0aa8"/>
<rect x="445.89" y="252.4" width="5.33" height="11.6" fill="#3f09a3"/>
<rect x="451.22" y="252.4" width="5.33" height="11.6" fill="#35099d"/>
<rect x="456.55" y="252.4" width="5.33" height="11.6" fill="#3f09a3"/>
<rect x="461.88" y="252.4" width="5.33" height="11.6" fill="#8b10bd"/>
<rect x="440.56" y="264" width="10.66" height="11.5" fill="#ff9040"/>
<rect x="451.22" y="264" width="5.33" height="11.5" fill="#f05080"/>
<rect x="461.88" y="264" width="5.33" height="11.5" fill="#ffb810"/>
<rect x="468.92" y="240.5" width="5.33" height="11.9" fill="#550cad"/>
<rect x="474.25" y="240.5" width="5.33" height="11.9" fill="#5f0eb3"/>
<rect x="479.58" y="240.5" width="10.66" height="11.9" fill="#7110bb"/>
<rect x="490.24" y="240.5" width="5.33" height="11.9" fill="#7910bd"/>
<rect x="468.92" y="252.4" width="5.33" height="11.6" fill="#2a0898"/>
<rect x="474.25" y="252.4" width="5.33" height="11.6" fill="#35099d"/>
<rect x="479.58" y="252.4" width="10.66" height="11.6" fill="#4a0aa8"/>
<rect x="490.24" y="252.4" width="5.33" height="11.6" fill="#6a10b8"/>
<rect x="468.92" y="264" width="5.33" height="11.5" fill="#ffa02c"/>
<rect x="490.24" y="264" width="5.33" height="11.5" fill="#ffb810"/>
<rect x="497.27" y="240.5" width="10.66" height="11.9" fill="#5f0eb3"/>
<rect x="507.93" y="240.5" width="10.66" height="11.9" fill="#6a10b8"/>
<rect x="518.59" y="240.5" width="5.33" height="11.9" fill="#7110bb"/>
<rect x="497.27" y="252.4" width="10.66" height="11.6" fill="#4a0aa8"/>
<rect x="507.93" y="252.4" width="10.66" height="11.6" fill="#550cad"/>
<rect x="518.59" y="252.4" width="5.33" height="11.6" fill="#6a10b8"/>
<rect x="518.59" y="264" width="5.33" height="11.5" fill="#ffa528"/>
<rect x="525.63" y="240.5" width="5.33" height="11.9" fill="#6a10b8"/>
<rect x="530.96" y="240.5" width="5.33" height="11.9" fill="#8010c0"/>
<rect x="536.29" y="240.5" width="10.66" height="11.9" fill="#7110bb"/>
<rect x="546.95" y="240.5" width="5.33" height="11.9" fill="#8010c0"/>
<rect x="525.63" y="252.4" width="5.33" height="11.6" fill="#7110bb"/>
<rect x="530.96" y="252.4" width="5.33" height="11.6" fill="#8010c0"/>
<rect x="536.29" y="252.4" width="10.66" height="11.6" fill="#ab15b3"/>
<rect x="546.95" y="252.4" width="5.33" height="11.6" fill="#9510bb"/>
<rect x="525.63" y="264" width="5.33" height="11.5" fill="#ff9538"/>
<rect x="530.96" y="264" width="5.33" height="11.5" fill="#f86070"/>
<rect x="536.29" y="264" width="5.33" height="11.5" fill="#ff9040"/>
<rect x="541.62" y="264" width="10.66" height="11.5" fill="#f55b75"/>
<rect x="553.98" y="240.5" width="10.66" height="11.9" fill="#4a0aa8"/>
<rect x="564.64" y="240.5" width="5.33" height="11.9" fill="#35099d"/>
<rect x="569.97" y="240.5" width="5.33" height="11.9" fill="#4a0aa8"/>
<rect x="575.3" y="240.5" width="5.33" height="11.9" fill="#8b10bd"/>
<rect x="553.98" y="252.4" width="5.33" height="11.6" fill="#2a0898"/>
<rect x="559.31" y="252.4" width="5.33" height="11.6" fill="#210895"/>
<rect x="564.64" y="252.4" width="5.33" height="11.6" fill="#2a0898"/>
<rect x="569.97" y="252.4" width="5.33" height="11.6" fill="#3f09a3"/>
<rect x="575.3" y="252.4" width="5.33" height="11.6" fill="#9510bb"/>
<rect x="575.3" y="264" width="5.33" height="11.5" fill="#fb8050"/>
<rect x="582.34" y="240.5" width="5.33" height="11.9" fill="#eb458b"/>
<rect x="587.67" y="240.5" width="5.33" height="11.9" fill="#ab15b3"/>
<rect x="593" y="240.5" width="5.33" height="11.9" fill="#6a10b8"/>
<rect x="598.33" y="240.5" width="5.33" height="11.9" fill="#550cad"/>
<rect x="603.66" y="240.5" width="5.33" height="11.9" fill="#8010c0"/>
<rect x="582.34" y="252.4" width="5.33" height="11.6" fill="#4a0aa8"/>
<rect x="587.67" y="252.4" width="5.33" height="11.6" fill="#7110bb"/>
<rect x="593" y="252.4" width="10.66" height="11.6" fill="#3f09a3"/>
<rect x="603.66" y="252.4" width="5.33" height="11.6" fill="#8010c0"/>
<rect x="582.34" y="264" width="5.33" height="11.5" fill="#f96868"/>
<rect x="587.67" y="264" width="5.33" height="11.5" fill="#e84090"/>
<rect x="593" y="264" width="5.33" height="11.5" fill="#f55b75"/>
<rect x="603.66" y="264" width="5.33" height="11.5" fill="#fb8050"/>
<rect x="587.67" y="275.5" width="5.33" height="12" fill="#ffa528"/>
<rect x="610.69" y="240.5" width="5.33" height="11.9" fill="#3f09a3"/>
<rect x="616.02" y="240.5" width="5.33" height="11.9" fill="#35099d"/>
<rect x="621.35" y="240.5" width="10.66" height="11.9" fill="#3f09a3"/>
<rect x="632.01" y="240.5" width="5.33" height="11.9" fill="#8b10bd"/>
<rect x="610.69" y="252.4" width="10.66" height="11.6" fill="#2a0898"/>
<rect x="621.35" y="252.4" width="5.33" height="11.6" fill="#35099d"/>
<rect x="626.68" y="252.4" width="5.33" height="11.6" fill="#3f09a3"/>
<rect x="632.01" y="252.4" width="5.33" height="11.6" fill="#8010c0"/>
<rect x="610.69" y="264" width="5.33" height="11.5" fill="#fa7858"/>
<rect x="632.01" y="264" width="5.33" height="11.5" fill="#ff9040"/>
<rect x="639.05" y="240.5" width="10.66" height="11.9" fill="#4a0aa8"/>
<rect x="649.71" y="240.5" width="10.66" height="11.9" fill="#6a10b8"/>
<rect x="660.37" y="240.5" width="5.33" height="11.9" fill="#8b10bd"/>
<rect x="639.05" y="252.4" width="10.66" height="11.6" fill="#3f09a3"/>
<rect x="649.71" y="252.4" width="5.33" height="11.6" fill="#35099d"/>
<rect x="655.04" y="252.4" width="5.33" height="11.6" fill="#4a0aa8"/>
<rect x="660.37" y="252.4" width="5.33" height="11.6" fill="#550cad"/>
<rect x="660.37" y="264" width="5.33" height="11.5" fill="#ff9538"/>
<path d="M100.3 240.5V298.6M105.63 240.5V298.6M110.96 240.5V298.6M116.29 240.5V298.6M121.62 240.5V298.6M126.96 240.5V298.6M100.3 240.5H126.96M100.3 252.4H126.96M100.3 264H126.96M100.3 275.5H126.96M100.3 287.5H126.96M100.3 298.6H126.96M128.66 240.5V298.6M133.99 240.5V298.6M139.32 240.5V298.6M144.65 240.5V298.6M149.98 240.5V298.6M155.31 240.5V298.6M128.66 240.5H155.31M128.66 252.4H155.31M128.66 264H155.31M128.66 275.5H155.31M128.66 287.5H155.31M128.66 298.6H155.31M157.01 240.5V298.6M162.34 240.5V298.6M167.67 240.5V298.6M173 240.5V298.6M178.33 240.5V298.6M183.67 240.5V298.6M157.01 240.5H183.67M157.01 252.4H183.67M157.01 264H183.67M157.01 275.5H183.67M157.01 287.5H183.67M157.01 298.6H183.67M185.37 240.5V298.6M190.7 240.5V298.6M196.03 240.5V298.6M201.36 240.5V298.6M206.69 240.5V298.6M212.02 240.5V298.6M185.37 240.5H212.02M185.37 252.4H212.02M185.37 264H212.02M185.37 275.5H212.02M185.37 287.5H212.02M185.37 298.6H212.02M213.72 240.5V298.6M219.05 240.5V298.6M224.38 240.5V298.6M229.71 240.5V298.6M235.04 240.5V298.6M240.38 240.5V298.6M213.72 240.5H240.38M213.72 252.4H240.38M213.72 264H240.38M213.72 275.5H240.38M213.72 287.5H240.38M213.72 298.6H240.38M242.08 240.5V298.6M247.41 240.5V298.6M252.74 240.5V298.6M258.07 240.5V298.6M263.4 240.5V298.6M268.73 240.5V298.6M242.08 240.5H268.73M242.08 252.4H268.73M242.08 264H268.73M242.08 275.5H268.73M242.08 287.5H268.73M242.08 298.6H268.73M270.43 240.5V298.6M275.76 240.5V298.6M281.09 240.5V298.6M286.42 240.5V298.6M291.75 240.5V298.6M297.09 240.5V298.6M270.43 240.5H297.09M270.43 252.4H297.09M270.43 264H297.09M270.43 275.5H297.09M270.43 287.5H297.09M270.43 298.6H297.09M298.79 240.5V298.6M304.12 240.5V298.6M309.45 240.5V298.6M314.78 240.5V298.6M320.11 240.5V298.6M325.44 240.5V298.6M298.79 240.5H325.44M298.79 252.4H325.44M298.79 264H325.44M298.79 275.5H325.44M298.79 287.5H325.44M298.79 298.6H325.44M327.14 240.5V298.6M332.47 240.5V298.6M337.8 240.5V298.6M343.13 240.5V298.6M348.46 240.5V298.6M353.8 240.5V298.6M327.14 240.5H353.8M327.14 252.4H353.8M327.14 264H353.8M327.14 275.5H353.8M327.14 287.5H353.8M327.14 298.6H353.8M355.5 240.5V298.6M360.83 240.5V298.6M366.16 240.5V298.6M371.49 240.5V298.6M376.82 240.5V298.6M382.15 240.5V298.6M355.5 240.5H382.15M355.5 252.4H382.15M355.5 264H382.15M355.5 275.5H382.15M355.5 287.5H382.15M355.5 298.6H382.15M383.85 240.5V298.6M389.18 240.5V298.6M394.51 240.5V298.6M399.84 240.5V298.6M405.17 240.5V298.6M410.51 240.5V298.6M383.85 240.5H410.51M383.85 252.4H410.51M383.85 264H410.51M383.85 275.5H410.51M383.85 287.5H410.51M383.85 298.6H410.51M412.21 240.5V298.6M417.54 240.5V298.6M422.87 240.5V298.6M428.2 240.5V298.6M433.53 240.5V298.6M438.86 240.5V298.6M412.21 240.5H438.86M412.21 252.4H438.86M412.21 264H438.86M412.21 275.5H438.86M412.21 287.5H438.86M412.21 298.6H438.86M440.56 240.5V298.6M445.89 240.5V298.6M451.22 240.5V298.6M456.55 240.5V298.6M461.88 240.5V298.6M467.22 240.5V298.6M440.56 240.5H467.22M440.56 252.4H467.22M440.56 264H467.22M440.56 275.5H467.22M440.56 287.5H467.22M440.56 298.6H467.22M468.92 240.5V298.6M474.25 240.5V298.6M479.58 240.5V298.6M484.91 240.5V298.6M490.24 240.5V298.6M495.57 240.5V298.6M468.92 240.5H495.57M468.92 252.4H495.57M468.92 264H495.57M468.92 275.5H495.57M468.92 287.5H495.57M468.92 298.6H495.57M497.27 240.5V298.6M502.6 240.5V298.6M507.93 240.5V298.6M513.26 240.5V298.6M518.59 240.5V298.6M523.93 240.5V298.6M497.27 240.5H523.93M497.27 252.4H523.93M497.27 264H523.93M497.27 275.5H523.93M497.27 287.5H523.93M497.27 298.6H523.93M525.63 240.5V298.6M530.96 240.5V298.6M536.29 240.5V298.6M541.62 240.5V298.6M546.95 240.5V298.6M552.28 240.5V298.6M525.63 240.5H552.28M525.63 252.4H552.28M525.63 264H552.28M525.63 275.5H552.28M525.63 287.5H552.28M525.63 298.6H552.28M553.98 240.5V298.6M559.31 240.5V298.6M564.64 240.5V298.6M569.97 240.5V298.6M575.3 240.5V298.6M580.64 240.5V298.6M553.98 240.5H580.64M553.98 252.4H580.64M553.98 264H580.64M553.98 275.5H580.64M553.98 287.5H580.64M553.98 298.6H580.64M582.34 240.5V298.6M587.67 240.5V298.6M593 240.5V298.6M598.33 240.5V298.6M603.66 240.5V298.6M608.99 240.5V298.6M582.34 240.5H608.99M582.34 252.4H608.99M582.34 264H608.99M582.34 275.5H608.99M582.34 287.5H608.99M582.34 298.6H608.99M610.69 240.5V298.6M616.02 240.5V298.6M621.35 240.5V298.6M626.68 240.5V298.6M632.01 240.5V298.6M637.35 240.5V298.6M610.69 240.5H637.35M610.69 252.4H637.35M610.69 264H637.35M610.69 275.5H637.35M610.69 287.5H637.35M610.69 298.6H637.35M639.05 240.5V298.6M644.38 240.5V298.6M649.71 240.5V298.6M655.04 240.5V298.6M660.37 240.5V298.6M665.7 240.5V298.6M639.05 240.5H665.7M639.05 252.4H665.7M639.05 264H665.7M639.05 275.5H665.7M639.05 287.5H665.7M639.05 298.6H665.7" stroke="#000" stroke-width="0.9" fill="none"/>
<path d="M127.81 240.5V298.6M156.16 240.5V298.6M184.52 240.5V298.6M212.87 240.5V298.6M241.23 240.5V298.6M269.58 240.5V298.6M297.94 240.5V298.6M326.29 240.5V298.6M354.65 240.5V298.6M383 240.5V298.6M411.36 240.5V298.6M439.71 240.5V298.6M468.07 240.5V298.6M496.42 240.5V298.6M524.78 240.5V298.6M553.13 240.5V298.6M581.49 240.5V298.6M609.84 240.5V298.6M638.2 240.5V298.6" stroke="#8a8a8a" stroke-width="1.7" fill="none"/>
<path d="M241.23 240.2V298.9M383 240.2V298.9M524.78 240.2V298.9" stroke="#8a8a8a" stroke-width="2.7" fill="none"/>
<text x="92.5" y="250.35" text-anchor="end" font-size="11.3" font-weight="bold" xml:space="preserve" style="white-space:pre" font-family="Liberation Sans, sans-serif">Q3  15a</text>
<rect x="67.26" y="251.8" width="6.48" height="1.2"/>
<text x="92.5" y="262.1" text-anchor="end" font-size="11.3" font-weight="bold" xml:space="preserve" style="white-space:pre" font-family="Liberation Sans, sans-serif">Q3  15b</text>
<rect x="66.64" y="263.55" width="6.48" height="1.2"/>
<text x="92.5" y="273.65" text-anchor="end" font-size="11.3" font-weight="bold" xml:space="preserve" style="white-space:pre" font-family="Liberation Sans, sans-serif">Part  I</text>
<rect x="82.98" y="275.1" width="6.48" height="1.2"/>
<text x="92.5" y="285.4" text-anchor="end" font-size="11.3" font-weight="bold" xml:space="preserve" style="white-space:pre" font-family="Liberation Sans, sans-serif">Part  II</text>
<rect x="79.84" y="286.85" width="6.48" height="1.2"/>
<text x="92.5" y="296.95" text-anchor="end" font-size="11.3" font-weight="bold" xml:space="preserve" style="white-space:pre" font-family="Liberation Sans, sans-serif">Part  III</text>
<rect x="76.7" y="298.4" width="6.48" height="1.2"/>
<text transform="translate(107.07 306.9) rotate(-90)" text-anchor="end" font-size="11.2" font-weight="bold" font-family="Liberation Sans, sans-serif">T.D</text>
<text transform="translate(135.42 306.9) rotate(-90)" text-anchor="end" font-size="11.2" font-weight="bold" font-family="Liberation Sans, sans-serif">I.D</text>
<text transform="translate(163.78 306.9) rotate(-90)" text-anchor="end" font-size="11.2" font-weight="bold" font-family="Liberation Sans, sans-serif">M.D</text>
<text transform="translate(192.13 306.9) rotate(-90)" text-anchor="end" font-size="11.2" font-weight="bold" font-family="Liberation Sans, sans-serif">R.D</text>
<text transform="translate(220.49 306.9) rotate(-90)" text-anchor="end" font-size="11.2" font-weight="bold" font-family="Liberation Sans, sans-serif">P.D</text>
<text transform="translate(248.84 306.9) rotate(-90)" text-anchor="end" font-size="11.2" font-weight="bold" font-family="Liberation Sans, sans-serif">Freq.T.D</text>
<text transform="translate(277.2 306.9) rotate(-90)" text-anchor="end" font-size="11.2" font-weight="bold" font-family="Liberation Sans, sans-serif">Freq.I.D</text>
<text transform="translate(305.55 306.9) rotate(-90)" text-anchor="end" font-size="11.2" font-weight="bold" font-family="Liberation Sans, sans-serif">Freq.M.D</text>
<text transform="translate(333.91 306.9) rotate(-90)" text-anchor="end" font-size="11.2" font-weight="bold" font-family="Liberation Sans, sans-serif">Freq.R.D</text>
<text transform="translate(362.26 306.9) rotate(-90)" text-anchor="end" font-size="11.2" font-weight="bold" font-family="Liberation Sans, sans-serif">Freq.P.D</text>
<text transform="translate(390.62 306.9) rotate(-90)" text-anchor="end" font-size="11.2" font-weight="bold" font-family="Liberation Sans, sans-serif">Vel.T.D</text>
<text transform="translate(418.97 306.9) rotate(-90)" text-anchor="end" font-size="11.2" font-weight="bold" font-family="Liberation Sans, sans-serif">Vel.I.D</text>
<text transform="translate(447.33 306.9) rotate(-90)" text-anchor="end" font-size="11.2" font-weight="bold" font-family="Liberation Sans, sans-serif">Vel.M.D</text>
<text transform="translate(475.68 306.9) rotate(-90)" text-anchor="end" font-size="11.2" font-weight="bold" font-family="Liberation Sans, sans-serif">Vel.R.D</text>
<text transform="translate(504.04 306.9) rotate(-90)" text-anchor="end" font-size="11.2" font-weight="bold" font-family="Liberation Sans, sans-serif">Vel.P.D</text>
<text transform="translate(532.39 306.9) rotate(-90)" text-anchor="end" font-size="11.2" font-weight="bold" font-family="Liberation Sans, sans-serif">Acc.T.D</text>
<text transform="translate(560.75 306.9) rotate(-90)" text-anchor="end" font-size="11.2" font-weight="bold" font-family="Liberation Sans, sans-serif">Acc.I.D</text>
<text transform="translate(589.1 306.9) rotate(-90)" text-anchor="end" font-size="11.2" font-weight="bold" font-family="Liberation Sans, sans-serif">Acc.M.D</text>
<text transform="translate(617.46 306.9) rotate(-90)" text-anchor="end" font-size="11.2" font-weight="bold" font-family="Liberation Sans, sans-serif">Acc.R.D</text>
<text transform="translate(645.81 306.9) rotate(-90)" text-anchor="end" font-size="11.2" font-weight="bold" font-family="Liberation Sans, sans-serif">Acc.P.D</text>
<path d="M94.5 246.45H100.3M94.5 258.2H100.3M94.5 269.75H100.3M94.5 281.5H100.3M94.5 293.05H100.3" stroke="#000" stroke-width="1.0" fill="none"/>
<path d="M102.97 298.6V304.7M131.32 298.6V304.7M159.68 298.6V304.7M188.03 298.6V304.7M216.39 298.6V304.7M244.74 298.6V304.7M273.1 298.6V304.7M301.45 298.6V304.7M329.81 298.6V304.7M358.16 298.6V304.7M386.52 298.6V304.7M414.87 298.6V304.7M443.23 298.6V304.7M471.58 298.6V304.7M499.94 298.6V304.7M528.29 298.6V304.7M556.65 298.6V304.7M585 298.6V304.7M613.36 298.6V304.7M641.71 298.6V304.7" stroke="#000" stroke-width="1.0" fill="none"/>
<rect x="97.1" y="432.2" width="10.73" height="11.3" fill="#0f9c8b"/>
<rect x="107.83" y="432.2" width="5.37" height="11.3" fill="#109491"/>
<rect x="113.2" y="432.2" width="10.73" height="11.3" fill="#0f9c8b"/>
<rect x="97.1" y="443.5" width="5.37" height="11.9" fill="#0fb278"/>
<rect x="102.47" y="443.5" width="5.37" height="11.9" fill="#0fac7e"/>
<rect x="107.83" y="443.5" width="5.37" height="11.9" fill="#0fa981"/>
<rect x="113.2" y="443.5" width="10.73" height="11.9" fill="#0fb278"/>
<rect x="97.1" y="455.4" width="5.37" height="11.9" fill="#16749e"/>
<rect x="102.47" y="455.4" width="21.46" height="11.9" fill="#1a6a9e"/>
<rect x="97.1" y="467.3" width="5.37" height="11.7" fill="#147e9e"/>
<rect x="102.47" y="467.3" width="5.37" height="11.7" fill="#16749e"/>
<rect x="107.83" y="467.3" width="16.1" height="11.7" fill="#157a9e"/>
<rect x="97.1" y="479" width="5.37" height="11.4" fill="#157a9e"/>
<rect x="102.47" y="479" width="5.37" height="11.4" fill="#186e9e"/>
<rect x="107.83" y="479" width="5.37" height="11.4" fill="#16749e"/>
<rect x="113.2" y="479" width="10.73" height="11.4" fill="#157a9e"/>
<rect x="125.63" y="432.2" width="21.46" height="11.3" fill="#109491"/>
<rect x="147.09" y="432.2" width="5.37" height="11.3" fill="#10978f"/>
<rect x="125.63" y="443.5" width="10.73" height="11.9" fill="#0fb278"/>
<rect x="136.36" y="443.5" width="10.73" height="11.9" fill="#0fac7e"/>
<rect x="147.09" y="443.5" width="5.37" height="11.9" fill="#0fb674"/>
<rect x="125.63" y="455.4" width="5.37" height="11.9" fill="#1a6a9e"/>
<rect x="131" y="455.4" width="5.37" height="11.9" fill="#20679f"/>
<rect x="136.36" y="455.4" width="16.1" height="11.9" fill="#1a6a9e"/>
<rect x="125.63" y="467.3" width="5.37" height="11.7" fill="#147e9e"/>
<rect x="131" y="467.3" width="16.1" height="11.7" fill="#157a9e"/>
<rect x="147.09" y="467.3" width="5.37" height="11.7" fill="#147e9e"/>
<rect x="125.63" y="479" width="5.37" height="11.4" fill="#157a9e"/>
<rect x="131" y="479" width="5.37" height="11.4" fill="#186e9e"/>
<rect x="136.36" y="479" width="10.73" height="11.4" fill="#16749e"/>
<rect x="147.09" y="479" width="5.37" height="11.4" fill="#157a9e"/>
<rect x="154.16" y="432.2" width="5.37" height="11.3" fill="#10978f"/>
<rect x="159.53" y="432.2" width="16.1" height="11.3" fill="#109491"/>
<rect x="175.62" y="432.2" width="5.37" height="11.3" fill="#10978f"/>
<rect x="154.16" y="443.5" width="5.37" height="11.9" fill="#0fb674"/>
<rect x="159.53" y="443.5" width="5.37" height="11.9" fill="#0fac7e"/>
<rect x="164.89" y="443.5" width="10.73" height="11.9" fill="#0fa981"/>
<rect x="175.62" y="443.5" width="5.37" height="11.9" fill="#0fb278"/>
<rect x="154.16" y="455.4" width="5.37" height="11.9" fill="#1a6a9e"/>
<rect x="159.53" y="455.4" width="5.37" height="11.9" fill="#3758a0"/>
<rect x="164.89" y="455.4" width="5.37" height="11.9" fill="#20679f"/>
<rect x="170.26" y="455.4" width="10.73" height="11.9" fill="#1a6a9e"/>
<rect x="154.16" y="467.3" width="5.37" height="11.7" fill="#147e9e"/>
<rect x="159.53" y="467.3" width="5.37" height="11.7" fill="#16749e"/>
<rect x="164.89" y="467.3" width="10.73" height="11.7" fill="#157a9e"/>
<rect x="175.62" y="467.3" width="5.37" height="11.7" fill="#147e9e"/>
<rect x="154.16" y="479" width="5.37" height="11.4" fill="#16749e"/>
<rect x="159.53" y="479" width="5.37" height="11.4" fill="#20679f"/>
<rect x="164.89" y="479" width="5.37" height="11.4" fill="#16749e"/>
<rect x="170.26" y="479" width="10.73" height="11.4" fill="#157a9e"/>
<rect x="182.69" y="432.2" width="26.83" height="11.3" fill="#109491"/>
<rect x="182.69" y="443.5" width="5.37" height="11.9" fill="#0fb278"/>
<rect x="188.06" y="443.5" width="16.1" height="11.9" fill="#0fac7e"/>
<rect x="204.15" y="443.5" width="5.37" height="11.9" fill="#0fb278"/>
<rect x="182.69" y="455.4" width="5.37" height="11.9" fill="#1a6a9e"/>
<rect x="188.06" y="455.4" width="5.37" height="11.9" fill="#20679f"/>
<rect x="193.42" y="455.4" width="5.37" height="11.9" fill="#2862a0"/>
<rect x="198.79" y="455.4" width="10.73" height="11.9" fill="#1a6a9e"/>
<rect x="182.69" y="467.3" width="5.37" height="11.7" fill="#147e9e"/>
<rect x="188.06" y="467.3" width="16.1" height="11.7" fill="#157a9e"/>
<rect x="204.15" y="467.3" width="5.37" height="11.7" fill="#147e9e"/>
<rect x="182.69" y="479" width="5.37" height="11.4" fill="#147e9e"/>
<rect x="188.06" y="479" width="10.73" height="11.4" fill="#157a9e"/>
<rect x="198.79" y="479" width="10.73" height="11.4" fill="#147e9e"/>
<rect x="211.22" y="432.2" width="21.46" height="11.3" fill="#109491"/>
<rect x="232.68" y="432.2" width="5.37" height="11.3" fill="#10978f"/>
<rect x="211.22" y="443.5" width="5.37" height="11.9" fill="#0fac7e"/>
<rect x="216.59" y="443.5" width="5.37" height="11.9" fill="#0fa981"/>
<rect x="221.95" y="443.5" width="5.37" height="11.9" fill="#0fac7e"/>
<rect x="227.32" y="443.5" width="10.73" height="11.9" fill="#0fb278"/>
<rect x="211.22" y="455.4" width="26.83" height="11.9" fill="#1a6a9e"/>
<rect x="211.22" y="467.3" width="26.83" height="11.7" fill="#157a9e"/>
<rect x="211.22" y="479" width="5.37" height="11.4" fill="#186e9e"/>
<rect x="216.59" y="479" width="10.73" height="11.4" fill="#157a9e"/>
<rect x="227.32" y="479" width="10.73" height="11.4" fill="#147e9e"/>
<rect x="239.75" y="432.2" width="10.73" height="11.3" fill="#1a6a9e"/>
<rect x="250.48" y="432.2" width="16.1" height="11.3" fill="#4b4299"/>
<rect x="239.75" y="443.5" width="10.73" height="11.9" fill="#147e9e"/>
<rect x="250.48" y="443.5" width="5.37" height="11.9" fill="#16749e"/>
<rect x="255.85" y="443.5" width="10.73" height="11.9" fill="#3f509f"/>
<rect x="239.75" y="455.4" width="5.37" height="11.9" fill="#0faa80"/>
<rect x="245.12" y="455.4" width="10.73" height="11.9" fill="#0fa386"/>
<rect x="255.85" y="455.4" width="10.73" height="11.9" fill="#0faa80"/>
<rect x="239.75" y="467.3" width="5.37" height="11.7" fill="#10be6c"/>
<rect x="245.12" y="467.3" width="10.73" height="11.7" fill="#0f9c8b"/>
<rect x="255.85" y="467.3" width="5.37" height="11.7" fill="#0faa80"/>
<rect x="261.21" y="467.3" width="5.37" height="11.7" fill="#0fa386"/>
<rect x="239.75" y="479" width="5.37" height="11.4" fill="#0fa386"/>
<rect x="245.12" y="479" width="5.37" height="11.4" fill="#109491"/>
<rect x="250.48" y="479" width="5.37" height="11.4" fill="#12889b"/>
<rect x="255.85" y="479" width="5.37" height="11.4" fill="#0faa80"/>
<rect x="261.21" y="479" width="5.37" height="11.4" fill="#0fa386"/>
<rect x="268.28" y="432.2" width="10.73" height="11.3" fill="#1a6a9e"/>
<rect x="279.01" y="432.2" width="5.37" height="11.3" fill="#4b4299"/>
<rect x="284.38" y="432.2" width="5.37" height="11.3" fill="#591d86"/>
<rect x="289.74" y="432.2" width="5.37" height="11.3" fill="#444b9e"/>
<rect x="268.28" y="443.5" width="5.37" height="11.9" fill="#147e9e"/>
<rect x="273.65" y="443.5" width="5.37" height="11.9" fill="#12889b"/>
<rect x="279.01" y="443.5" width="5.37" height="11.9" fill="#147e9e"/>
<rect x="284.38" y="443.5" width="5.37" height="11.9" fill="#1a6a9e"/>
<rect x="289.74" y="443.5" width="5.37" height="11.9" fill="#3758a0"/>
<rect x="268.28" y="455.4" width="5.37" height="11.9" fill="#0faa80"/>
<rect x="273.65" y="455.4" width="10.73" height="11.9" fill="#0fb476"/>
<rect x="284.38" y="455.4" width="5.37" height="11.9" fill="#0faa80"/>
<rect x="289.74" y="455.4" width="5.37" height="11.9" fill="#0fb476"/>
<rect x="268.28" y="467.3" width="5.37" height="11.7" fill="#0fa386"/>
<rect x="273.65" y="467.3" width="5.37" height="11.7" fill="#0faa80"/>
<rect x="279.01" y="467.3" width="5.37" height="11.7" fill="#10be6c"/>
<rect x="284.38" y="467.3" width="5.37" height="11.7" fill="#0fa386"/>
<rect x="289.74" y="467.3" width="5.37" height="11.7" fill="#0faa80"/>
<rect x="268.28" y="479" width="5.37" height="11.4" fill="#109491"/>
<rect x="273.65" y="479" width="16.1" height="11.4" fill="#0f9c8b"/>
<rect x="289.74" y="479" width="5.37" height="11.4" fill="#0faa80"/>
<rect x="296.81" y="432.2" width="5.37" height="11.3" fill="#520a79"/>
<rect x="302.18" y="432.2" width="5.37" height="11.3" fill="#581482"/>
<rect x="307.54" y="432.2" width="5.37" height="11.3" fill="#4b4299"/>
<rect x="312.91" y="432.2" width="5.37" height="11.3" fill="#581482"/>
<rect x="318.27" y="432.2" width="5.37" height="11.3" fill="#444b9e"/>
<rect x="296.81" y="443.5" width="5.37" height="11.9" fill="#444b9e"/>
<rect x="302.18" y="443.5" width="5.37" height="11.9" fill="#3758a0"/>
<rect x="307.54" y="443.5" width="5.37" height="11.9" fill="#1a6a9e"/>
<rect x="312.91" y="443.5" width="5.37" height="11.9" fill="#147e9e"/>
<rect x="318.27" y="443.5" width="5.37" height="11.9" fill="#1a6a9e"/>
<rect x="296.81" y="455.4" width="5.37" height="11.9" fill="#0fa386"/>
<rect x="302.18" y="455.4" width="5.37" height="11.9" fill="#147e9e"/>
<rect x="307.54" y="455.4" width="5.37" height="11.9" fill="#0f9c8b"/>
<rect x="312.91" y="455.4" width="5.37" height="11.9" fill="#0fa386"/>
<rect x="318.27" y="455.4" width="5.37" height="11.9" fill="#0fb476"/>
<rect x="296.81" y="467.3" width="5.37" height="11.7" fill="#0f9c8b"/>
<rect x="302.18" y="467.3" width="5.37" height="11.7" fill="#147e9e"/>
<rect x="307.54" y="467.3" width="10.73" height="11.7" fill="#0fa386"/>
<rect x="318.27" y="467.3" width="5.37" height="11.7" fill="#0fb476"/>
<rect x="296.81" y="479" width="5.37" height="11.4" fill="#0fa386"/>
<rect x="302.18" y="479" width="5.37" height="11.4" fill="#109491"/>
<rect x="307.54" y="479" width="5.37" height="11.4" fill="#147e9e"/>
<rect x="312.91" y="479" width="5.37" height="11.4" fill="#0f9c8b"/>
<rect x="318.27" y="479" width="5.37" height="11.4" fill="#0fb476"/>
<rect x="325.34" y="432.2" width="5.37" height="11.3" fill="#543592"/>
<rect x="330.71" y="432.2" width="5.37" height="11.3" fill="#503c96"/>
<rect x="336.07" y="432.2" width="5.37" height="11.3" fill="#5a2a8c"/>
<rect x="341.44" y="432.2" width="5.37" height="11.3" fill="#503c96"/>
<rect x="346.8" y="432.2" width="5.37" height="11.3" fill="#444b9e"/>
<rect x="325.34" y="443.5" width="5.37" height="11.9" fill="#16749e"/>
<rect x="330.71" y="443.5" width="10.73" height="11.9" fill="#147e9e"/>
<rect x="341.44" y="443.5" width="5.37" height="11.9" fill="#16749e"/>
<rect x="346.8" y="443.5" width="5.37" height="11.9" fill="#1a6a9e"/>
<rect x="325.34" y="455.4" width="5.37" height="11.9" fill="#0fa386"/>
<rect x="330.71" y="455.4" width="10.73" height="11.9" fill="#109491"/>
<rect x="341.44" y="455.4" width="5.37" height="11.9" fill="#0f9c8b"/>
<rect x="346.8" y="455.4" width="5.37" height="11.9" fill="#0fb476"/>
<rect x="325.34" y="467.3" width="5.37" height="11.7" fill="#0fa386"/>
<rect x="330.71" y="467.3" width="10.73" height="11.7" fill="#109491"/>
<rect x="341.44" y="467.3" width="5.37" height="11.7" fill="#0f9c8b"/>
<rect x="346.8" y="467.3" width="5.37" height="11.7" fill="#0fb476"/>
<rect x="325.34" y="479" width="5.37" height="11.4" fill="#109491"/>
<rect x="330.71" y="479" width="5.37" height="11.4" fill="#147e9e"/>
<rect x="336.07" y="479" width="5.37" height="11.4" fill="#12889b"/>
<rect x="341.44" y="479" width="5.37" height="11.4" fill="#0f9c8b"/>
<rect x="346.8" y="479" width="5.37" height="11.4" fill="#0fb476"/>
<rect x="353.87" y="432.2" width="5.37" height="11.3" fill="#503c96"/>
<rect x="359.24" y="432.2" width="5.37" height="11.3" fill="#5a2a8c"/>
<rect x="364.6" y="432.2" width="5.37" height="11.3" fill="#4b4299"/>
<rect x="369.97" y="432.2" width="5.37" height="11.3" fill="#503c96"/>
<rect x="375.33" y="432.2" width="5.37" height="11.3" fill="#2862a0"/>
<rect x="353.87" y="443.5" width="5.37" height="11.9" fill="#147e9e"/>
<rect x="359.24" y="443.5" width="5.37" height="11.9" fill="#12889b"/>
<rect x="364.6" y="443.5" width="10.73" height="11.9" fill="#16749e"/>
<rect x="375.33" y="443.5" width="5.37" height="11.9" fill="#1a6a9e"/>
<rect x="353.87" y="455.4" width="5.37" height="11.9" fill="#0faa80"/>
<rect x="359.24" y="455.4" width="5.37" height="11.9" fill="#0fa386"/>
<rect x="364.6" y="455.4" width="5.37" height="11.9" fill="#12889b"/>
<rect x="369.97" y="455.4" width="5.37" height="11.9" fill="#0fa386"/>
<rect x="375.33" y="455.4" width="5.37" height="11.9" fill="#0fb476"/>
<rect x="353.87" y="467.3" width="5.37" height="11.7" fill="#0fa386"/>
<rect x="359.24" y="467.3" width="5.37" height="11.7" fill="#0f9c8b"/>
<rect x="364.6" y="467.3" width="5.37" height="11.7" fill="#12889b"/>
<rect x="369.97" y="467.3" width="5.37" height="11.7" fill="#0f9c8b"/>
<rect x="375.33" y="467.3" width="5.37" height="11.7" fill="#0fa386"/>
<rect x="353.87" y="479" width="10.73" height="11.4" fill="#0f9c8b"/>
<rect x="364.6" y="479" width="5.37" height="11.4" fill="#12889b"/>
<rect x="369.97" y="479" width="5.37" height="11.4" fill="#109491"/>
<rect x="375.33" y="479" width="5.37" height="11.4" fill="#0fb476"/>
<rect x="382.4" y="432.2" width="5.37" height="11.3" fill="#10978f"/>
<rect x="387.77" y="432.2" width="16.1" height="11.3" fill="#0f9c8b"/>
<rect x="403.86" y="432.2" width="5.37" height="11.3" fill="#10978f"/>
<rect x="382.4" y="443.5" width="5.37" height="11.9" fill="#0f9c8b"/>
<rect x="387.77" y="443.5" width="5.37" height="11.9" fill="#0fa088"/>
<rect x="393.13" y="443.5" width="10.73" height="11.9" fill="#0f9c8b"/>
<rect x="403.86" y="443.5" width="5.37" height="11.9" fill="#10978f"/>
<rect x="382.4" y="455.4" width="5.37" height="11.9" fill="#444b9e"/>
<rect x="387.77" y="455.4" width="21.46" height="11.9" fill="#3758a0"/>
<rect x="382.4" y="467.3" width="5.37" height="11.7" fill="#5a2a8c"/>
<rect x="387.77" y="467.3" width="5.37" height="11.7" fill="#503c96"/>
<rect x="393.13" y="467.3" width="16.1" height="11.7" fill="#3758a0"/>
<rect x="382.4" y="479" width="5.37" height="11.4" fill="#147e9e"/>
<rect x="387.77" y="479" width="16.1" height="11.4" fill="#12889b"/>
<rect x="403.86" y="479" width="5.37" height="11.4" fill="#147e9e"/>
<rect x="410.93" y="432.2" width="5.37" height="11.3" fill="#0f9c8b"/>
<rect x="416.3" y="432.2" width="10.73" height="11.3" fill="#0fa088"/>
<rect x="427.03" y="432.2" width="5.37" height="11.3" fill="#0f9c8b"/>
<rect x="432.39" y="432.2" width="5.37" height="11.3" fill="#109491"/>
<rect x="410.93" y="443.5" width="5.37" height="11.9" fill="#0fa684"/>
<rect x="416.3" y="443.5" width="5.37" height="11.9" fill="#0fa386"/>
<rect x="421.66" y="443.5" width="5.37" height="11.9" fill="#0fa088"/>
<rect x="427.03" y="443.5" width="5.37" height="11.9" fill="#0f9c8b"/>
<rect x="432.39" y="443.5" width="5.37" height="11.9" fill="#109491"/>
<rect x="410.93" y="455.4" width="5.37" height="11.9" fill="#20679f"/>
<rect x="416.3" y="455.4" width="16.1" height="11.9" fill="#1a6a9e"/>
<rect x="432.39" y="455.4" width="5.37" height="11.9" fill="#2862a0"/>
<rect x="410.93" y="467.3" width="5.37" height="11.7" fill="#3c539f"/>
<rect x="416.3" y="467.3" width="5.37" height="11.7" fill="#3758a0"/>
<rect x="421.66" y="467.3" width="10.73" height="11.7" fill="#2862a0"/>
<rect x="432.39" y="467.3" width="5.37" height="11.7" fill="#3758a0"/>
<rect x="410.93" y="479" width="5.37" height="11.4" fill="#157a9e"/>
<rect x="416.3" y="479" width="16.1" height="11.4" fill="#147e9e"/>
<rect x="432.39" y="479" width="5.37" height="11.4" fill="#157a9e"/>
<rect x="439.46" y="432.2" width="5.37" height="11.3" fill="#10978f"/>
<rect x="444.83" y="432.2" width="5.37" height="11.3" fill="#0f9c8b"/>
<rect x="450.19" y="432.2" width="5.37" height="11.3" fill="#0fa088"/>
<rect x="455.56" y="432.2" width="5.37" height="11.3" fill="#0f9c8b"/>
<rect x="460.92" y="432.2" width="5.37" height="11.3" fill="#109491"/>
<rect x="439.46" y="443.5" width="5.37" height="11.9" fill="#0f9c8b"/>
<rect x="444.83" y="443.5" width="5.37" height="11.9" fill="#0fa386"/>
<rect x="450.19" y="443.5" width="5.37" height="11.9" fill="#0fa684"/>
<rect x="455.56" y="443.5" width="5.37" height="11.9" fill="#0f9c8b"/>
<rect x="460.92" y="443.5" width="5.37" height="11.9" fill="#109491"/>
<rect x="439.46" y="455.4" width="5.37" height="11.9" fill="#2862a0"/>
<rect x="444.83" y="455.4" width="10.73" height="11.9" fill="#1a6a9e"/>
<rect x="455.56" y="455.4" width="5.37" height="11.9" fill="#20679f"/>
<rect x="460.92" y="455.4" width="5.37" height="11.9" fill="#3758a0"/>
<rect x="439.46" y="467.3" width="5.37" height="11.7" fill="#444b9e"/>
<rect x="444.83" y="467.3" width="16.1" height="11.7" fill="#2862a0"/>
<rect x="460.92" y="467.3" width="5.37" height="11.7" fill="#3758a0"/>
<rect x="439.46" y="479" width="5.37" height="11.4" fill="#16749e"/>
<rect x="444.83" y="479" width="5.37" height="11.4" fill="#157a9e"/>
<rect x="450.19" y="479" width="10.73" height="11.4" fill="#147e9e"/>
<rect x="460.92" y="479" width="5.37" height="11.4" fill="#16749e"/>
<rect x="467.99" y="432.2" width="5.37" height="11.3" fill="#10978f"/>
<rect x="473.36" y="432.2" width="16.1" height="11.3" fill="#0f9c8b"/>
<rect x="489.45" y="432.2" width="5.37" height="11.3" fill="#10978f"/>
<rect x="467.99" y="443.5" width="5.37" height="11.9" fill="#0f9c8b"/>
<rect x="473.36" y="443.5" width="16.1" height="11.9" fill="#0fa088"/>
<rect x="489.45" y="443.5" width="5.37" height="11.9" fill="#0f9c8b"/>
<rect x="467.99" y="455.4" width="5.37" height="11.9" fill="#2862a0"/>
<rect x="473.36" y="455.4" width="5.37" height="11.9" fill="#20679f"/>
<rect x="478.72" y="455.4" width="5.37" height="11.9" fill="#1a6a9e"/>
<rect x="484.09" y="455.4" width="5.37" height="11.9" fill="#2862a0"/>
<rect x="489.45" y="455.4" width="5.37" height="11.9" fill="#3758a0"/>
<rect x="467.99" y="467.3" width="21.46" height="11.7" fill="#3758a0"/>
<rect x="489.45" y="467.3" width="5.37" height="11.7" fill="#444b9e"/>
<rect x="467.99" y="479" width="5.37" height="11.4" fill="#157a9e"/>
<rect x="473.36" y="479" width="16.1" height="11.4" fill="#147e9e"/>
<rect x="489.45" y="479" width="5.37" height="11.4" fill="#157a9e"/>
<rect x="496.52" y="432.2" width="5.37" height="11.3" fill="#109491"/>
<rect x="501.89" y="432.2" width="16.1" height="11.3" fill="#0f9c8b"/>
<rect x="517.98" y="432.2" width="5.37" height="11.3" fill="#109491"/>
<rect x="496.52" y="443.5" width="5.37" height="11.9" fill="#0f9c8b"/>
<rect x="501.89" y="443.5" width="10.73" height="11.9" fill="#0fa088"/>
<rect x="512.62" y="443.5" width="10.73" height="11.9" fill="#0f9c8b"/>
<rect x="496.52" y="455.4" width="5.37" height="11.9" fill="#2862a0"/>
<rect x="501.89" y="455.4" width="10.73" height="11.9" fill="#1a6a9e"/>
<rect x="512.62" y="455.4" width="5.37" height="11.9" fill="#20679f"/>
<rect x="517.98" y="455.4" width="5.37" height="11.9" fill="#2862a0"/>
<rect x="496.52" y="467.3" width="5.37" height="11.7" fill="#3758a0"/>
<rect x="501.89" y="467.3" width="16.1" height="11.7" fill="#2862a0"/>
<rect x="517.98" y="467.3" width="5.37" height="11.7" fill="#3758a0"/>
<rect x="496.52" y="479" width="5.37" height="11.4" fill="#147e9e"/>
<rect x="501.89" y="479" width="16.1" height="11.4" fill="#12889b"/>
<rect x="517.98" y="479" width="5.37" height="11.4" fill="#147e9e"/>
<rect x="525.05" y="432.2" width="5.37" height="11.3" fill="#109491"/>
<rect x="530.42" y="432.2" width="5.37" height="11.3" fill="#10978f"/>
<rect x="535.78" y="432.2" width="10.73" height="11.3" fill="#0f9c8b"/>
<rect x="546.51" y="432.2" width="5.37" height="11.3" fill="#10978f"/>
<rect x="525.05" y="443.5" width="21.46" height="11.9" fill="#0f9c8b"/>
<rect x="546.51" y="443.5" width="5.37" height="11.9" fill="#10978f"/>
<rect x="525.05" y="455.4" width="5.37" height="11.9" fill="#503c96"/>
<rect x="530.42" y="455.4" width="5.37" height="11.9" fill="#3758a0"/>
<rect x="535.78" y="455.4" width="5.37" height="11.9" fill="#2862a0"/>
<rect x="541.15" y="455.4" width="10.73" height="11.9" fill="#3758a0"/>
<rect x="525.05" y="467.3" width="5.37" height="11.7" fill="#5a2a8c"/>
<rect x="530.42" y="467.3" width="5.37" height="11.7" fill="#503c96"/>
<rect x="535.78" y="467.3" width="16.1" height="11.7" fill="#3758a0"/>
<rect x="525.05" y="479" width="5.37" height="11.4" fill="#12889b"/>
<rect x="530.42" y="479" width="10.73" height="11.4" fill="#118f95"/>
<rect x="541.15" y="479" width="5.37" height="11.4" fill="#12889b"/>
<rect x="546.51" y="479" width="5.37" height="11.4" fill="#147e9e"/>
<rect x="553.58" y="432.2" width="5.37" height="11.3" fill="#10978f"/>
<rect x="558.95" y="432.2" width="5.37" height="11.3" fill="#0f9c8b"/>
<rect x="564.31" y="432.2" width="5.37" height="11.3" fill="#0fa088"/>
<rect x="569.68" y="432.2" width="5.37" height="11.3" fill="#0f9c8b"/>
<rect x="575.04" y="432.2" width="5.37" height="11.3" fill="#109491"/>
<rect x="553.58" y="443.5" width="10.73" height="11.9" fill="#0fa386"/>
<rect x="564.31" y="443.5" width="5.37" height="11.9" fill="#0fa088"/>
<rect x="569.68" y="443.5" width="5.37" height="11.9" fill="#0f9c8b"/>
<rect x="575.04" y="443.5" width="5.37" height="11.9" fill="#109491"/>
<rect x="553.58" y="455.4" width="5.37" height="11.9" fill="#2862a0"/>
<rect x="558.95" y="455.4" width="16.1" height="11.9" fill="#1a6a9e"/>
<rect x="575.04" y="455.4" width="5.37" height="11.9" fill="#2862a0"/>
<rect x="553.58" y="467.3" width="5.37" height="11.7" fill="#444b9e"/>
<rect x="558.95" y="467.3" width="10.73" height="11.7" fill="#3758a0"/>
<rect x="569.68" y="467.3" width="5.37" height="11.7" fill="#2862a0"/>
<rect x="575.04" y="467.3" width="5.37" height="11.7" fill="#3758a0"/>
<rect x="553.58" y="479" width="10.73" height="11.4" fill="#16749e"/>
<rect x="564.31" y="479" width="5.37" height="11.4" fill="#1a6a9e"/>
<rect x="569.68" y="479" width="10.73" height="11.4" fill="#147e9e"/>
<rect x="582.11" y="432.2" width="5.37" height="11.3" fill="#10978f"/>
<rect x="587.48" y="432.2" width="5.37" height="11.3" fill="#0f9c8b"/>
<rect x="592.84" y="432.2" width="5.37" height="11.3" fill="#0fa088"/>
<rect x="598.21" y="432.2" width="5.37" height="11.3" fill="#0f9c8b"/>
<rect x="603.57" y="432.2" width="5.37" height="11.3" fill="#109491"/>
<rect x="582.11" y="443.5" width="5.37" height="11.9" fill="#0fa088"/>
<rect x="587.48" y="443.5" width="5.37" height="11.9" fill="#0fa386"/>
<rect x="592.84" y="443.5" width="5.37" height="11.9" fill="#0fa684"/>
<rect x="598.21" y="443.5" width="5.37" height="11.9" fill="#0f9c8b"/>
<rect x="603.57" y="443.5" width="5.37" height="11.9" fill="#10978f"/>
<rect x="582.11" y="455.4" width="5.37" height="11.9" fill="#3758a0"/>
<rect x="587.48" y="455.4" width="10.73" height="11.9" fill="#1a6a9e"/>
<rect x="598.21" y="455.4" width="5.37" height="11.9" fill="#20679f"/>
<rect x="603.57" y="455.4" width="5.37" height="11.9" fill="#315ca0"/>
<rect x="582.11" y="467.3" width="5.37" height="11.7" fill="#503c96"/>
<rect x="587.48" y="467.3" width="5.37" height="11.7" fill="#3758a0"/>
<rect x="592.84" y="467.3" width="5.37" height="11.7" fill="#1a6a9e"/>
<rect x="598.21" y="467.3" width="5.37" height="11.7" fill="#2862a0"/>
<rect x="603.57" y="467.3" width="5.37" height="11.7" fill="#3758a0"/>
<rect x="582.11" y="479" width="10.73" height="11.4" fill="#16749e"/>
<rect x="592.84" y="479" width="10.73" height="11.4" fill="#147e9e"/>
<rect x="603.57" y="479" width="5.37" height="11.4" fill="#16749e"/>
<rect x="610.64" y="432.2" width="5.37" height="11.3" fill="#109491"/>
<rect x="616.01" y="432.2" width="16.1" height="11.3" fill="#0f9c8b"/>
<rect x="632.1" y="432.2" width="5.37" height="11.3" fill="#109491"/>
<rect x="610.64" y="443.5" width="5.37" height="11.9" fill="#0f9c8b"/>
<rect x="616.01" y="443.5" width="5.37" height="11.9" fill="#0fa088"/>
<rect x="621.37" y="443.5" width="10.73" height="11.9" fill="#0f9c8b"/>
<rect x="632.1" y="443.5" width="5.37" height="11.9" fill="#10978f"/>
<rect x="610.64" y="455.4" width="5.37" height="11.9" fill="#315ca0"/>
<rect x="616.01" y="455.4" width="5.37" height="11.9" fill="#20679f"/>
<rect x="621.37" y="455.4" width="10.73" height="11.9" fill="#2862a0"/>
<rect x="632.1" y="455.4" width="5.37" height="11.9" fill="#3758a0"/>
<rect x="610.64" y="467.3" width="5.37" height="11.7" fill="#444b9e"/>
<rect x="616.01" y="467.3" width="21.46" height="11.7" fill="#3758a0"/>
<rect x="610.64" y="479" width="5.37" height="11.4" fill="#16749e"/>
<rect x="616.01" y="479" width="5.37" height="11.4" fill="#157a9e"/>
<rect x="621.37" y="479" width="5.37" height="11.4" fill="#147e9e"/>
<rect x="626.74" y="479" width="5.37" height="11.4" fill="#157a9e"/>
<rect x="632.1" y="479" width="5.37" height="11.4" fill="#16749e"/>
<rect x="639.17" y="432.2" width="5.37" height="11.3" fill="#109491"/>
<rect x="644.54" y="432.2" width="5.37" height="11.3" fill="#0f9c8b"/>
<rect x="649.9" y="432.2" width="5.37" height="11.3" fill="#0fa088"/>
<rect x="655.27" y="432.2" width="5.37" height="11.3" fill="#0f9c8b"/>
<rect x="660.63" y="432.2" width="5.37" height="11.3" fill="#109491"/>
<rect x="639.17" y="443.5" width="5.37" height="11.9" fill="#0f9c8b"/>
<rect x="644.54" y="443.5" width="5.37" height="11.9" fill="#0fa088"/>
<rect x="649.9" y="443.5" width="5.37" height="11.9" fill="#0fa386"/>
<rect x="655.27" y="443.5" width="5.37" height="11.9" fill="#0f9c8b"/>
<rect x="660.63" y="443.5" width="5.37" height="11.9" fill="#10978f"/>
<rect x="639.17" y="455.4" width="5.37" height="11.9" fill="#2862a0"/>
<rect x="644.54" y="455.4" width="5.37" height="11.9" fill="#1a6a9e"/>
<rect x="649.9" y="455.4" width="10.73" height="11.9" fill="#2862a0"/>
<rect x="660.63" y="455.4" width="5.37" height="11.9" fill="#3758a0"/>
<rect x="639.17" y="467.3" width="5.37" height="11.7" fill="#3758a0"/>
<rect x="644.54" y="467.3" width="5.37" height="11.7" fill="#1a6a9e"/>
<rect x="649.9" y="467.3" width="10.73" height="11.7" fill="#2862a0"/>
<rect x="660.63" y="467.3" width="5.37" height="11.7" fill="#3758a0"/>
<rect x="639.17" y="479" width="5.37" height="11.4" fill="#157a9e"/>
<rect x="644.54" y="479" width="10.73" height="11.4" fill="#12889b"/>
<rect x="655.27" y="479" width="5.37" height="11.4" fill="#13829d"/>
<rect x="660.63" y="479" width="5.37" height="11.4" fill="#16749e"/>
<path d="M97.1 432.2V490.4M102.47 432.2V490.4M107.83 432.2V490.4M113.2 432.2V490.4M118.56 432.2V490.4M123.93 432.2V490.4M97.1 432.2H123.93M97.1 443.5H123.93M97.1 455.4H123.93M97.1 467.3H123.93M97.1 479H123.93M97.1 490.4H123.93M125.63 432.2V490.4M131 432.2V490.4M136.36 432.2V490.4M141.73 432.2V490.4M147.09 432.2V490.4M152.46 432.2V490.4M125.63 432.2H152.46M125.63 443.5H152.46M125.63 455.4H152.46M125.63 467.3H152.46M125.63 479H152.46M125.63 490.4H152.46M154.16 432.2V490.4M159.53 432.2V490.4M164.89 432.2V490.4M170.26 432.2V490.4M175.62 432.2V490.4M180.99 432.2V490.4M154.16 432.2H180.99M154.16 443.5H180.99M154.16 455.4H180.99M154.16 467.3H180.99M154.16 479H180.99M154.16 490.4H180.99M182.69 432.2V490.4M188.06 432.2V490.4M193.42 432.2V490.4M198.79 432.2V490.4M204.15 432.2V490.4M209.52 432.2V490.4M182.69 432.2H209.52M182.69 443.5H209.52M182.69 455.4H209.52M182.69 467.3H209.52M182.69 479H209.52M182.69 490.4H209.52M211.22 432.2V490.4M216.59 432.2V490.4M221.95 432.2V490.4M227.32 432.2V490.4M232.68 432.2V490.4M238.05 432.2V490.4M211.22 432.2H238.05M211.22 443.5H238.05M211.22 455.4H238.05M211.22 467.3H238.05M211.22 479H238.05M211.22 490.4H238.05M239.75 432.2V490.4M245.12 432.2V490.4M250.48 432.2V490.4M255.85 432.2V490.4M261.21 432.2V490.4M266.58 432.2V490.4M239.75 432.2H266.58M239.75 443.5H266.58M239.75 455.4H266.58M239.75 467.3H266.58M239.75 479H266.58M239.75 490.4H266.58M268.28 432.2V490.4M273.65 432.2V490.4M279.01 432.2V490.4M284.38 432.2V490.4M289.74 432.2V490.4M295.11 432.2V490.4M268.28 432.2H295.11M268.28 443.5H295.11M268.28 455.4H295.11M268.28 467.3H295.11M268.28 479H295.11M268.28 490.4H295.11M296.81 432.2V490.4M302.18 432.2V490.4M307.54 432.2V490.4M312.91 432.2V490.4M318.27 432.2V490.4M323.64 432.2V490.4M296.81 432.2H323.64M296.81 443.5H323.64M296.81 455.4H323.64M296.81 467.3H323.64M296.81 479H323.64M296.81 490.4H323.64M325.34 432.2V490.4M330.71 432.2V490.4M336.07 432.2V490.4M341.44 432.2V490.4M346.8 432.2V490.4M352.17 432.2V490.4M325.34 432.2H352.17M325.34 443.5H352.17M325.34 455.4H352.17M325.34 467.3H352.17M325.34 479H352.17M325.34 490.4H352.17M353.87 432.2V490.4M359.24 432.2V490.4M364.6 432.2V490.4M369.97 432.2V490.4M375.33 432.2V490.4M380.7 432.2V490.4M353.87 432.2H380.7M353.87 443.5H380.7M353.87 455.4H380.7M353.87 467.3H380.7M353.87 479H380.7M353.87 490.4H380.7M382.4 432.2V490.4M387.77 432.2V490.4M393.13 432.2V490.4M398.5 432.2V490.4M403.86 432.2V490.4M409.23 432.2V490.4M382.4 432.2H409.23M382.4 443.5H409.23M382.4 455.4H409.23M382.4 467.3H409.23M382.4 479H409.23M382.4 490.4H409.23M410.93 432.2V490.4M416.3 432.2V490.4M421.66 432.2V490.4M427.03 432.2V490.4M432.39 432.2V490.4M437.76 432.2V490.4M410.93 432.2H437.76M410.93 443.5H437.76M410.93 455.4H437.76M410.93 467.3H437.76M410.93 479H437.76M410.93 490.4H437.76M439.46 432.2V490.4M444.83 432.2V490.4M450.19 432.2V490.4M455.56 432.2V490.4M460.92 432.2V490.4M466.29 432.2V490.4M439.46 432.2H466.29M439.46 443.5H466.29M439.46 455.4H466.29M439.46 467.3H466.29M439.46 479H466.29M439.46 490.4H466.29M467.99 432.2V490.4M473.36 432.2V490.4M478.72 432.2V490.4M484.09 432.2V490.4M489.45 432.2V490.4M494.82 432.2V490.4M467.99 432.2H494.82M467.99 443.5H494.82M467.99 455.4H494.82M467.99 467.3H494.82M467.99 479H494.82M467.99 490.4H494.82M496.52 432.2V490.4M501.89 432.2V490.4M507.25 432.2V490.4M512.62 432.2V490.4M517.98 432.2V490.4M523.35 432.2V490.4M496.52 432.2H523.35M496.52 443.5H523.35M496.52 455.4H523.35M496.52 467.3H523.35M496.52 479H523.35M496.52 490.4H523.35M525.05 432.2V490.4M530.42 432.2V490.4M535.78 432.2V490.4M541.15 432.2V490.4M546.51 432.2V490.4M551.88 432.2V490.4M525.05 432.2H551.88M525.05 443.5H551.88M525.05 455.4H551.88M525.05 467.3H551.88M525.05 479H551.88M525.05 490.4H551.88M553.58 432.2V490.4M558.95 432.2V490.4M564.31 432.2V490.4M569.68 432.2V490.4M575.04 432.2V490.4M580.41 432.2V490.4M553.58 432.2H580.41M553.58 443.5H580.41M553.58 455.4H580.41M553.58 467.3H580.41M553.58 479H580.41M553.58 490.4H580.41M582.11 432.2V490.4M587.48 432.2V490.4M592.84 432.2V490.4M598.21 432.2V490.4M603.57 432.2V490.4M608.94 432.2V490.4M582.11 432.2H608.94M582.11 443.5H608.94M582.11 455.4H608.94M582.11 467.3H608.94M582.11 479H608.94M582.11 490.4H608.94M610.64 432.2V490.4M616.01 432.2V490.4M621.37 432.2V490.4M626.74 432.2V490.4M632.1 432.2V490.4M637.47 432.2V490.4M610.64 432.2H637.47M610.64 443.5H637.47M610.64 455.4H637.47M610.64 467.3H637.47M610.64 479H637.47M610.64 490.4H637.47M639.17 432.2V490.4M644.54 432.2V490.4M649.9 432.2V490.4M655.27 432.2V490.4M660.63 432.2V490.4M666 432.2V490.4M639.17 432.2H666M639.17 443.5H666M639.17 455.4H666M639.17 467.3H666M639.17 479H666M639.17 490.4H666" stroke="#000" stroke-width="0.9" fill="none"/>
<path d="M124.78 432.2V490.4M153.31 432.2V490.4M181.84 432.2V490.4M210.37 432.2V490.4M238.9 432.2V490.4M267.43 432.2V490.4M295.96 432.2V490.4M324.49 432.2V490.4M353.02 432.2V490.4M381.55 432.2V490.4M410.08 432.2V490.4M438.61 432.2V490.4M467.14 432.2V490.4M495.67 432.2V490.4M524.2 432.2V490.4M552.73 432.2V490.4M581.26 432.2V490.4M609.79 432.2V490.4M638.32 432.2V490.4" stroke="#a4a4a4" stroke-width="1.7" fill="none"/>
<path d="M238.9 431.9V490.7M381.55 431.9V490.7M524.2 431.9V490.7" stroke="#a4a4a4" stroke-width="2.7" fill="none"/>
<text x="88.6" y="441.75" text-anchor="end" font-size="11.3" font-weight="bold" xml:space="preserve" style="white-space:pre" font-family="Liberation Sans, sans-serif">Q3  15a</text>
<rect x="63.36" y="443.2" width="6.48" height="1.2"/>
<text x="88.6" y="453.35" text-anchor="end" font-size="11.3" font-weight="bold" xml:space="preserve" style="white-space:pre" font-family="Liberation Sans, sans-serif">Q3  15b</text>
<rect x="62.74" y="454.8" width="6.48" height="1.2"/>
<text x="88.6" y="465.25" text-anchor="end" font-size="11.3" font-weight="bold" xml:space="preserve" style="white-space:pre" font-family="Liberation Sans, sans-serif">Part  I</text>
<rect x="79.08" y="466.7" width="6.48" height="1.2"/>
<text x="88.6" y="477.05" text-anchor="end" font-size="11.3" font-weight="bold" xml:space="preserve" style="white-space:pre" font-family="Liberation Sans, sans-serif">Part  II</text>
<rect x="75.94" y="478.5" width="6.48" height="1.2"/>
<text x="88.6" y="488.6" text-anchor="end" font-size="11.3" font-weight="bold" xml:space="preserve" style="white-space:pre" font-family="Liberation Sans, sans-serif">Part  III</text>
<rect x="72.8" y="490.05" width="6.48" height="1.2"/>
<text transform="translate(103.58 499.1) rotate(-90)" text-anchor="end" font-size="11.2" font-weight="bold" font-family="Liberation Sans, sans-serif">T.D</text>
<text transform="translate(132.11 499.1) rotate(-90)" text-anchor="end" font-size="11.2" font-weight="bold" font-family="Liberation Sans, sans-serif">I.D</text>
<text transform="translate(160.64 499.1) rotate(-90)" text-anchor="end" font-size="11.2" font-weight="bold" font-family="Liberation Sans, sans-serif">M.D</text>
<text transform="translate(189.17 499.1) rotate(-90)" text-anchor="end" font-size="11.2" font-weight="bold" font-family="Liberation Sans, sans-serif">R.D</text>
<text transform="translate(217.7 499.1) rotate(-90)" text-anchor="end" font-size="11.2" font-weight="bold" font-family="Liberation Sans, sans-serif">P.D</text>
<text transform="translate(246.23 499.1) rotate(-90)" text-anchor="end" font-size="11.2" font-weight="bold" font-family="Liberation Sans, sans-serif">Freq.T.D</text>
<text transform="translate(274.76 499.1) rotate(-90)" text-anchor="end" font-size="11.2" font-weight="bold" font-family="Liberation Sans, sans-serif">Freq.I.D</text>
<text transform="translate(303.29 499.1) rotate(-90)" text-anchor="end" font-size="11.2" font-weight="bold" font-family="Liberation Sans, sans-serif">Freq.M.D</text>
<text transform="translate(331.82 499.1) rotate(-90)" text-anchor="end" font-size="11.2" font-weight="bold" font-family="Liberation Sans, sans-serif">Freq.R.D</text>
<text transform="translate(360.35 499.1) rotate(-90)" text-anchor="end" font-size="11.2" font-weight="bold" font-family="Liberation Sans, sans-serif">Freq.P.D</text>
<text transform="translate(388.88 499.1) rotate(-90)" text-anchor="end" font-size="11.2" font-weight="bold" font-family="Liberation Sans, sans-serif">Vel.T.D</text>
<text transform="translate(417.41 499.1) rotate(-90)" text-anchor="end" font-size="11.2" font-weight="bold" font-family="Liberation Sans, sans-serif">Vel.I.D</text>
<text transform="translate(445.94 499.1) rotate(-90)" text-anchor="end" font-size="11.2" font-weight="bold" font-family="Liberation Sans, sans-serif">Vel.M.D</text>
<text transform="translate(474.47 499.1) rotate(-90)" text-anchor="end" font-size="11.2" font-weight="bold" font-family="Liberation Sans, sans-serif">Vel.R.D</text>
<text transform="translate(503 499.1) rotate(-90)" text-anchor="end" font-size="11.2" font-weight="bold" font-family="Liberation Sans, sans-serif">Vel.P.D</text>
<text transform="translate(531.53 499.1) rotate(-90)" text-anchor="end" font-size="11.2" font-weight="bold" font-family="Liberation Sans, sans-serif">Acc.T.D</text>
<text transform="translate(560.06 499.1) rotate(-90)" text-anchor="end" font-size="11.2" font-weight="bold" font-family="Liberation Sans, sans-serif">Acc.I.D</text>
<text transform="translate(588.59 499.1) rotate(-90)" text-anchor="end" font-size="11.2" font-weight="bold" font-family="Liberation Sans, sans-serif">Acc.M.D</text>
<text transform="translate(617.12 499.1) rotate(-90)" text-anchor="end" font-size="11.2" font-weight="bold" font-family="Liberation Sans, sans-serif">Acc.R.D</text>
<text transform="translate(645.65 499.1) rotate(-90)" text-anchor="end" font-size="11.2" font-weight="bold" font-family="Liberation Sans, sans-serif">Acc.P.D</text>
<path d="M90.6 437.85H97.1M90.6 449.45H97.1M90.6 461.35H97.1M90.6 473.15H97.1M90.6 484.7H97.1" stroke="#000" stroke-width="2.0" fill="none"/>
<path d="M99.78 490.4V497.2M128.31 490.4V497.2M156.84 490.4V497.2M185.37 490.4V497.2M213.9 490.4V497.2M242.43 490.4V497.2M270.96 490.4V497.2M299.49 490.4V497.2M328.02 490.4V497.2M356.55 490.4V497.2M385.08 490.4V497.2M413.61 490.4V497.2M442.14 490.4V497.2M470.67 490.4V497.2M499.2 490.4V497.2M527.73 490.4V497.2M556.26 490.4V497.2M584.79 490.4V497.2M613.32 490.4V497.2M641.85 490.4V497.2" stroke="#000" stroke-width="2.1" fill="none"/>
<rect x="95.5" y="599" width="5.42" height="11.5" fill="#ff9538"/>
<rect x="111.75" y="599" width="5.42" height="11.5" fill="#ffde00"/>
<rect x="117.16" y="599" width="5.42" height="11.5" fill="#ffe400"/>
<rect x="124.28" y="599" width="5.42" height="11.5" fill="#f55b75"/>
<rect x="145.94" y="599" width="5.42" height="11.5" fill="#d025a3"/>
<rect x="153.05" y="599" width="5.42" height="11.5" fill="#ed4b85"/>
<rect x="158.47" y="599" width="5.42" height="11.5" fill="#f0f000"/>
<rect x="163.88" y="599" width="5.42" height="11.5" fill="#f8ea00"/>
<rect x="174.71" y="599" width="5.42" height="11.5" fill="#fb8050"/>
<rect x="250.21" y="587.2" width="5.42" height="11.8" fill="#9510bb"/>
<rect x="255.62" y="587.2" width="10.83" height="11.8" fill="#b51bad"/>
<rect x="255.62" y="599" width="10.83" height="11.5" fill="#f96868"/>
<rect x="239.38" y="622.5" width="5.42" height="12" fill="#ffde00"/>
<rect x="278.98" y="587.2" width="5.42" height="11.8" fill="#7910bd"/>
<rect x="284.39" y="587.2" width="5.42" height="11.8" fill="#2a0898"/>
<rect x="289.81" y="587.2" width="5.42" height="11.8" fill="#8b10bd"/>
<rect x="289.81" y="599" width="5.42" height="11.5" fill="#ffd800"/>
<rect x="278.98" y="622.5" width="5.42" height="12" fill="#ffc810"/>
<rect x="296.92" y="587.2" width="10.83" height="11.8" fill="#210895"/>
<rect x="307.75" y="587.2" width="5.42" height="11.8" fill="#b51bad"/>
<rect x="313.17" y="587.2" width="5.42" height="11.8" fill="#190893"/>
<rect x="318.58" y="587.2" width="5.42" height="11.8" fill="#ff9040"/>
<rect x="296.92" y="599" width="5.42" height="11.5" fill="#9510bb"/>
<rect x="302.34" y="599" width="5.42" height="11.5" fill="#f96868"/>
<rect x="318.58" y="634.5" width="5.42" height="11.8" fill="#ff9538"/>
<rect x="325.7" y="587.2" width="5.42" height="11.8" fill="#2a0898"/>
<rect x="331.12" y="587.2" width="5.42" height="11.8" fill="#4a0aa8"/>
<rect x="336.53" y="587.2" width="5.42" height="11.8" fill="#210895"/>
<rect x="341.94" y="587.2" width="5.42" height="11.8" fill="#5f0eb3"/>
<rect x="347.36" y="587.2" width="5.42" height="11.8" fill="#fd8848"/>
<rect x="347.36" y="610.5" width="5.42" height="12" fill="#f0f000"/>
<rect x="354.47" y="587.2" width="5.42" height="11.8" fill="#5f0eb3"/>
<rect x="359.89" y="587.2" width="5.42" height="11.8" fill="#3f09a3"/>
<rect x="365.3" y="587.2" width="5.42" height="11.8" fill="#9510bb"/>
<rect x="370.72" y="587.2" width="5.42" height="11.8" fill="#d025a3"/>
<rect x="383.25" y="610.5" width="5.42" height="12" fill="#9510bb"/>
<rect x="388.67" y="610.5" width="5.42" height="12" fill="#ff9040"/>
<rect x="399.5" y="610.5" width="5.42" height="12" fill="#f05080"/>
<rect x="404.91" y="610.5" width="5.42" height="12" fill="#ed4b85"/>
<rect x="383.25" y="622.5" width="5.42" height="12" fill="#35099d"/>
<rect x="388.67" y="622.5" width="5.42" height="12" fill="#5f0eb3"/>
<rect x="394.08" y="622.5" width="5.42" height="12" fill="#a010b8"/>
<rect x="399.5" y="622.5" width="5.42" height="12" fill="#f3557b"/>
<rect x="404.91" y="622.5" width="5.42" height="12" fill="#f05080"/>
<rect x="433.69" y="610.5" width="5.42" height="12" fill="#fb8050"/>
<rect x="412.02" y="622.5" width="5.42" height="12" fill="#f96868"/>
<rect x="417.44" y="622.5" width="5.42" height="12" fill="#ffb810"/>
<rect x="422.85" y="622.5" width="5.42" height="12" fill="#fb8050"/>
<rect x="433.69" y="622.5" width="5.42" height="12" fill="#fa7060"/>
<rect x="462.46" y="610.5" width="5.42" height="12" fill="#f96868"/>
<rect x="440.8" y="622.5" width="5.42" height="12" fill="#c823a5"/>
<rect x="446.21" y="622.5" width="5.42" height="12" fill="#ff9a30"/>
<rect x="462.46" y="622.5" width="5.42" height="12" fill="#f3557b"/>
<rect x="491.24" y="610.5" width="5.42" height="12" fill="#fd8848"/>
<rect x="469.57" y="622.5" width="5.42" height="12" fill="#f05080"/>
<rect x="474.99" y="622.5" width="5.42" height="12" fill="#ff9040"/>
<rect x="480.4" y="622.5" width="5.42" height="12" fill="#ffde00"/>
<rect x="491.24" y="622.5" width="5.42" height="12" fill="#fd8848"/>
<rect x="520.01" y="610.5" width="5.42" height="12" fill="#ff9040"/>
<rect x="520.01" y="622.5" width="5.42" height="12" fill="#ff9040"/>
<rect x="527.12" y="610.5" width="5.42" height="12" fill="#6a10b8"/>
<rect x="532.54" y="610.5" width="5.42" height="12" fill="#d025a3"/>
<rect x="543.37" y="610.5" width="10.83" height="12" fill="#fb8050"/>
<rect x="527.12" y="622.5" width="5.42" height="12" fill="#35099d"/>
<rect x="532.54" y="622.5" width="5.42" height="12" fill="#4a0aa8"/>
<rect x="537.96" y="622.5" width="5.42" height="12" fill="#a010b8"/>
<rect x="543.37" y="622.5" width="5.42" height="12" fill="#fd8848"/>
<rect x="548.78" y="622.5" width="5.42" height="12" fill="#ff9040"/>
<rect x="577.56" y="610.5" width="5.42" height="12" fill="#ffa02c"/>
<rect x="555.9" y="622.5" width="5.42" height="12" fill="#f55b75"/>
<rect x="561.31" y="622.5" width="5.42" height="12" fill="#fa7060"/>
<rect x="566.73" y="622.5" width="5.42" height="12" fill="#ffae1c"/>
<rect x="577.56" y="622.5" width="5.42" height="12" fill="#ffd800"/>
<rect x="606.33" y="610.5" width="5.42" height="12" fill="#ffc010"/>
<rect x="584.67" y="622.5" width="5.42" height="12" fill="#ab15b3"/>
<rect x="590.09" y="622.5" width="5.42" height="12" fill="#f3557b"/>
<rect x="606.33" y="622.5" width="5.42" height="12" fill="#f0f000"/>
<rect x="635.11" y="610.5" width="5.42" height="12" fill="#ffd008"/>
<rect x="613.45" y="622.5" width="5.42" height="12" fill="#f86070"/>
<rect x="618.86" y="622.5" width="5.42" height="12" fill="#fb8050"/>
<rect x="624.28" y="622.5" width="5.42" height="12" fill="#ffc010"/>
<rect x="635.11" y="622.5" width="5.42" height="12" fill="#ffc810"/>
<rect x="663.88" y="622.5" width="5.42" height="12" fill="#f0f000"/>
<path d="M95.5 587.2V646.3M100.92 587.2V646.3M106.33 587.2V646.3M111.75 587.2V646.3M117.16 587.2V646.3M122.58 587.2V646.3M95.5 587.2H122.58M95.5 599H122.58M95.5 610.5H122.58M95.5 622.5H122.58M95.5 634.5H122.58M95.5 646.3H122.58M124.28 587.2V646.3M129.69 587.2V646.3M135.11 587.2V646.3M140.52 587.2V646.3M145.94 587.2V646.3M151.35 587.2V646.3M124.28 587.2H151.35M124.28 599H151.35M124.28 610.5H151.35M124.28 622.5H151.35M124.28 634.5H151.35M124.28 646.3H151.35M153.05 587.2V646.3M158.47 587.2V646.3M163.88 587.2V646.3M169.3 587.2V646.3M174.71 587.2V646.3M180.12 587.2V646.3M153.05 587.2H180.12M153.05 599H180.12M153.05 610.5H180.12M153.05 622.5H180.12M153.05 634.5H180.12M153.05 646.3H180.12M181.82 587.2V646.3M187.24 587.2V646.3M192.66 587.2V646.3M198.07 587.2V646.3M203.48 587.2V646.3M208.9 587.2V646.3M181.82 587.2H208.9M181.82 599H208.9M181.82 610.5H208.9M181.82 622.5H208.9M181.82 634.5H208.9M181.82 646.3H208.9M210.6 587.2V646.3M216.01 587.2V646.3M221.43 587.2V646.3M226.84 587.2V646.3M232.26 587.2V646.3M237.67 587.2V646.3M210.6 587.2H237.67M210.6 599H237.67M210.6 610.5H237.67M210.6 622.5H237.67M210.6 634.5H237.67M210.6 646.3H237.67M239.38 587.2V646.3M244.79 587.2V646.3M250.21 587.2V646.3M255.62 587.2V646.3M261.04 587.2V646.3M266.45 587.2V646.3M239.38 587.2H266.45M239.38 599H266.45M239.38 610.5H266.45M239.38 622.5H266.45M239.38 634.5H266.45M239.38 646.3H266.45M268.15 587.2V646.3M273.56 587.2V646.3M278.98 587.2V646.3M284.39 587.2V646.3M289.81 587.2V646.3M295.22 587.2V646.3M268.15 587.2H295.22M268.15 599H295.22M268.15 610.5H295.22M268.15 622.5H295.22M268.15 634.5H295.22M268.15 646.3H295.22M296.92 587.2V646.3M302.34 587.2V646.3M307.75 587.2V646.3M313.17 587.2V646.3M318.58 587.2V646.3M324 587.2V646.3M296.92 587.2H324M296.92 599H324M296.92 610.5H324M296.92 622.5H324M296.92 634.5H324M296.92 646.3H324M325.7 587.2V646.3M331.12 587.2V646.3M336.53 587.2V646.3M341.94 587.2V646.3M347.36 587.2V646.3M352.77 587.2V646.3M325.7 587.2H352.77M325.7 599H352.77M325.7 610.5H352.77M325.7 622.5H352.77M325.7 634.5H352.77M325.7 646.3H352.77M354.47 587.2V646.3M359.89 587.2V646.3M365.3 587.2V646.3M370.72 587.2V646.3M376.13 587.2V646.3M381.55 587.2V646.3M354.47 587.2H381.55M354.47 599H381.55M354.47 610.5H381.55M354.47 622.5H381.55M354.47 634.5H381.55M354.47 646.3H381.55M383.25 587.2V646.3M388.67 587.2V646.3M394.08 587.2V646.3M399.5 587.2V646.3M404.91 587.2V646.3M410.32 587.2V646.3M383.25 587.2H410.32M383.25 599H410.32M383.25 610.5H410.32M383.25 622.5H410.32M383.25 634.5H410.32M383.25 646.3H410.32M412.02 587.2V646.3M417.44 587.2V646.3M422.85 587.2V646.3M428.27 587.2V646.3M433.69 587.2V646.3M439.1 587.2V646.3M412.02 587.2H439.1M412.02 599H439.1M412.02 610.5H439.1M412.02 622.5H439.1M412.02 634.5H439.1M412.02 646.3H439.1M440.8 587.2V646.3M446.21 587.2V646.3M451.63 587.2V646.3M457.04 587.2V646.3M462.46 587.2V646.3M467.87 587.2V646.3M440.8 587.2H467.87M440.8 599H467.87M440.8 610.5H467.87M440.8 622.5H467.87M440.8 634.5H467.87M440.8 646.3H467.87M469.57 587.2V646.3M474.99 587.2V646.3M480.4 587.2V646.3M485.82 587.2V646.3M491.24 587.2V646.3M496.65 587.2V646.3M469.57 587.2H496.65M469.57 599H496.65M469.57 610.5H496.65M469.57 622.5H496.65M469.57 634.5H496.65M469.57 646.3H496.65M498.35 587.2V646.3M503.76 587.2V646.3M509.18 587.2V646.3M514.59 587.2V646.3M520.01 587.2V646.3M525.42 587.2V646.3M498.35 587.2H525.42M498.35 599H525.42M498.35 610.5H525.42M498.35 622.5H525.42M498.35 634.5H525.42M498.35 646.3H525.42M527.12 587.2V646.3M532.54 587.2V646.3M537.96 587.2V646.3M543.37 587.2V646.3M548.78 587.2V646.3M554.2 587.2V646.3M527.12 587.2H554.2M527.12 599H554.2M527.12 610.5H554.2M527.12 622.5H554.2M527.12 634.5H554.2M527.12 646.3H554.2M555.9 587.2V646.3M561.31 587.2V646.3M566.73 587.2V646.3M572.14 587.2V646.3M577.56 587.2V646.3M582.98 587.2V646.3M555.9 587.2H582.98M555.9 599H582.98M555.9 610.5H582.98M555.9 622.5H582.98M555.9 634.5H582.98M555.9 646.3H582.98M584.67 587.2V646.3M590.09 587.2V646.3M595.5 587.2V646.3M600.92 587.2V646.3M606.33 587.2V646.3M611.75 587.2V646.3M584.67 587.2H611.75M584.67 599H611.75M584.67 610.5H611.75M584.67 622.5H611.75M584.67 634.5H611.75M584.67 646.3H611.75M613.45 587.2V646.3M618.86 587.2V646.3M624.28 587.2V646.3M629.69 587.2V646.3M635.11 587.2V646.3M640.52 587.2V646.3M613.45 587.2H640.52M613.45 599H640.52M613.45 610.5H640.52M613.45 622.5H640.52M613.45 634.5H640.52M613.45 646.3H640.52M642.23 587.2V646.3M647.64 587.2V646.3M653.06 587.2V646.3M658.47 587.2V646.3M663.88 587.2V646.3M669.3 587.2V646.3M642.23 587.2H669.3M642.23 599H669.3M642.23 610.5H669.3M642.23 622.5H669.3M642.23 634.5H669.3M642.23 646.3H669.3" stroke="#000" stroke-width="0.9" fill="none"/>
<path d="M123.42 587.2V646.3M152.2 587.2V646.3M180.97 587.2V646.3M209.75 587.2V646.3M238.52 587.2V646.3M267.3 587.2V646.3M296.07 587.2V646.3M324.85 587.2V646.3M353.62 587.2V646.3M382.4 587.2V646.3M411.18 587.2V646.3M439.95 587.2V646.3M468.72 587.2V646.3M497.5 587.2V646.3M526.27 587.2V646.3M555.05 587.2V646.3M583.83 587.2V646.3M612.6 587.2V646.3M641.38 587.2V646.3" stroke="#8a8a8a" stroke-width="1.7" fill="none"/>
<path d="M238.52 586.9V646.6M382.4 586.9V646.6M526.27 586.9V646.6" stroke="#8a8a8a" stroke-width="2.7" fill="none"/>
<text x="87.1" y="597" text-anchor="end" font-size="11.3" font-weight="bold" xml:space="preserve" style="white-space:pre" font-family="Liberation Sans, sans-serif">Q3  15a</text>
<rect x="61.86" y="598.45" width="6.48" height="1.2"/>
<text x="87.1" y="608.65" text-anchor="end" font-size="11.3" font-weight="bold" xml:space="preserve" style="white-space:pre" font-family="Liberation Sans, sans-serif">Q3  15b</text>
<rect x="61.24" y="610.1" width="6.48" height="1.2"/>
<text x="87.1" y="620.4" text-anchor="end" font-size="11.3" font-weight="bold" xml:space="preserve" style="white-space:pre" font-family="Liberation Sans, sans-serif">Part  I</text>
<rect x="77.58" y="621.85" width="6.48" height="1.2"/>
<text x="87.1" y="632.4" text-anchor="end" font-size="11.3" font-weight="bold" xml:space="preserve" style="white-space:pre" font-family="Liberation Sans, sans-serif">Part  II</text>
<rect x="74.44" y="633.85" width="6.48" height="1.2"/>
<text x="87.1" y="644.3" text-anchor="end" font-size="11.3" font-weight="bold" xml:space="preserve" style="white-space:pre" font-family="Liberation Sans, sans-serif">Part  III</text>
<rect x="71.3" y="645.75" width="6.48" height="1.2"/>
<text transform="translate(102.41 654.1) rotate(-90)" text-anchor="end" font-size="11.2" font-weight="bold" font-family="Liberation Sans, sans-serif">T.D</text>
<text transform="translate(131.18 654.1) rotate(-90)" text-anchor="end" font-size="11.2" font-weight="bold" font-family="Liberation Sans, sans-serif">I.D</text>
<text transform="translate(159.96 654.1) rotate(-90)" text-anchor="end" font-size="11.2" font-weight="bold" font-family="Liberation Sans, sans-serif">M.D</text>
<text transform="translate(188.73 654.1) rotate(-90)" text-anchor="end" font-size="11.2" font-weight="bold" font-family="Liberation Sans, sans-serif">R.D</text>
<text transform="translate(217.51 654.1) rotate(-90)" text-anchor="end" font-size="11.2" font-weight="bold" font-family="Liberation Sans, sans-serif">P.D</text>
<text transform="translate(246.28 654.1) rotate(-90)" text-anchor="end" font-size="11.2" font-weight="bold" font-family="Liberation Sans, sans-serif">Freq.T.D</text>
<text transform="translate(275.06 654.1) rotate(-90)" text-anchor="end" font-size="11.2" font-weight="bold" font-family="Liberation Sans, sans-serif">Freq.I.D</text>
<text transform="translate(303.83 654.1) rotate(-90)" text-anchor="end" font-size="11.2" font-weight="bold" font-family="Liberation Sans, sans-serif">Freq.M.D</text>
<text transform="translate(332.61 654.1) rotate(-90)" text-anchor="end" font-size="11.2" font-weight="bold" font-family="Liberation Sans, sans-serif">Freq.R.D</text>
<text transform="translate(361.38 654.1) rotate(-90)" text-anchor="end" font-size="11.2" font-weight="bold" font-family="Liberation Sans, sans-serif">Freq.P.D</text>
<text transform="translate(390.16 654.1) rotate(-90)" text-anchor="end" font-size="11.2" font-weight="bold" font-family="Liberation Sans, sans-serif">Vel.T.D</text>
<text transform="translate(418.93 654.1) rotate(-90)" text-anchor="end" font-size="11.2" font-weight="bold" font-family="Liberation Sans, sans-serif">Vel.I.D</text>
<text transform="translate(447.71 654.1) rotate(-90)" text-anchor="end" font-size="11.2" font-weight="bold" font-family="Liberation Sans, sans-serif">Vel.M.D</text>
<text transform="translate(476.48 654.1) rotate(-90)" text-anchor="end" font-size="11.2" font-weight="bold" font-family="Liberation Sans, sans-serif">Vel.R.D</text>
<text transform="translate(505.26 654.1) rotate(-90)" text-anchor="end" font-size="11.2" font-weight="bold" font-family="Liberation Sans, sans-serif">Vel.P.D</text>
<text transform="translate(534.03 654.1) rotate(-90)" text-anchor="end" font-size="11.2" font-weight="bold" font-family="Liberation Sans, sans-serif">Acc.T.D</text>
<text transform="translate(562.81 654.1) rotate(-90)" text-anchor="end" font-size="11.2" font-weight="bold" font-family="Liberation Sans, sans-serif">Acc.I.D</text>
<text transform="translate(591.58 654.1) rotate(-90)" text-anchor="end" font-size="11.2" font-weight="bold" font-family="Liberation Sans, sans-serif">Acc.M.D</text>
<text transform="translate(620.36 654.1) rotate(-90)" text-anchor="end" font-size="11.2" font-weight="bold" font-family="Liberation Sans, sans-serif">Acc.R.D</text>
<text transform="translate(649.13 654.1) rotate(-90)" text-anchor="end" font-size="11.2" font-weight="bold" font-family="Liberation Sans, sans-serif">Acc.P.D</text>
<path d="M89.1 593.1H95.5M89.1 604.75H95.5M89.1 616.5H95.5M89.1 628.5H95.5M89.1 640.4H95.5" stroke="#000" stroke-width="1.0" fill="none"/>
<path d="M98.21 646.3V652.4M126.98 646.3V652.4M155.76 646.3V652.4M184.53 646.3V652.4M213.31 646.3V652.4M242.08 646.3V652.4M270.86 646.3V652.4M299.63 646.3V652.4M328.41 646.3V652.4M357.18 646.3V652.4M385.96 646.3V652.4M414.73 646.3V652.4M443.51 646.3V652.4M472.28 646.3V652.4M501.06 646.3V652.4M529.83 646.3V652.4M558.61 646.3V652.4M587.38 646.3V652.4M616.16 646.3V652.4M644.93 646.3V652.4" stroke="#000" stroke-width="1.0" fill="none"/>
<linearGradient id="ga" x1="0" y1="0" x2="0" y2="1"><stop offset="0.008" stop-color="#faeb05"/><stop offset="0.047" stop-color="#f0e80f"/><stop offset="0.086" stop-color="#d7e419"/><stop offset="0.125" stop-color="#afdc23"/><stop offset="0.163" stop-color="#8cd62d"/><stop offset="0.202" stop-color="#64d237"/><stop offset="0.241" stop-color="#34d048"/><stop offset="0.280" stop-color="#18cc5a"/><stop offset="0.319" stop-color="#12c664"/><stop offset="0.358" stop-color="#10be6c"/><stop offset="0.397" stop-color="#0fb476"/><stop offset="0.436" stop-color="#0faa80"/><stop offset="0.475" stop-color="#0fa386"/><stop offset="0.514" stop-color="#0f9c8b"/><stop offset="0.553" stop-color="#109491"/><stop offset="0.591" stop-color="#12889b"/><stop offset="0.630" stop-color="#147e9e"/><stop offset="0.669" stop-color="#16749e"/><stop offset="0.708" stop-color="#1a6a9e"/><stop offset="0.747" stop-color="#2862a0"/><stop offset="0.786" stop-color="#3758a0"/><stop offset="0.825" stop-color="#444b9e"/><stop offset="0.864" stop-color="#503c96"/><stop offset="0.903" stop-color="#5a2a8c"/><stop offset="0.942" stop-color="#581482"/><stop offset="1.000" stop-color="#4b0070"/></linearGradient>
<rect x="682.65" y="76.65" width="18.3" height="57.5" fill="url(#ga)" stroke="#000" stroke-width="1.7"/>
<path d="M682.8 85.5h3M700.8 85.5h-3M682.8 108h3M700.8 108h-3M682.8 130.5h3M700.8 130.5h-3" stroke="#000" stroke-width="1.6" fill="none"/>
<text x="708.5" y="89.2" font-size="12" font-family="Liberation Sans, sans-serif">0.5</text>
<text x="708.5" y="111.9" font-size="12" font-family="Liberation Sans, sans-serif">0</text>
<text x="708.5" y="134.5" font-size="12" font-family="Liberation Sans, sans-serif">-0.5</text>
<linearGradient id="gb" x1="0" y1="0" x2="0" y2="1"><stop offset="0.000" stop-color="#f0f000"/><stop offset="0.040" stop-color="#ffe400"/><stop offset="0.080" stop-color="#ffd800"/><stop offset="0.120" stop-color="#ffc810"/><stop offset="0.160" stop-color="#ffb810"/><stop offset="0.200" stop-color="#ffa528"/><stop offset="0.240" stop-color="#ff9a30"/><stop offset="0.280" stop-color="#ff9040"/><stop offset="0.320" stop-color="#fb8050"/><stop offset="0.360" stop-color="#fa7060"/><stop offset="0.400" stop-color="#f86070"/><stop offset="0.460" stop-color="#f05080"/><stop offset="0.520" stop-color="#e84090"/><stop offset="0.580" stop-color="#d828a0"/><stop offset="0.640" stop-color="#c020a8"/><stop offset="0.700" stop-color="#a010b8"/><stop offset="0.760" stop-color="#8010c0"/><stop offset="0.820" stop-color="#6a10b8"/><stop offset="0.880" stop-color="#4a0aa8"/><stop offset="0.940" stop-color="#2a0898"/><stop offset="1.000" stop-color="#100890"/></linearGradient>
<rect x="684.15" y="241.15" width="18.7" height="57.5" fill="url(#gb)" stroke="#000" stroke-width="1.7"/>
<path d="M684.3 263.9h3M702.7 263.9h-3M684.3 287.3h3M702.7 287.3h-3" stroke="#000" stroke-width="1.6" fill="none"/>
<text x="710" y="244.8" font-size="12" font-family="Liberation Sans, sans-serif">0.05</text>
<text x="710" y="268.1" font-size="12" font-family="Liberation Sans, sans-serif">0.03</text>
<text x="710" y="291.5" font-size="12" font-family="Liberation Sans, sans-serif">0.01</text>
<linearGradient id="gc" x1="0" y1="0" x2="0" y2="1"><stop offset="0.008" stop-color="#faeb05"/><stop offset="0.047" stop-color="#f0e80f"/><stop offset="0.086" stop-color="#d7e419"/><stop offset="0.125" stop-color="#afdc23"/><stop offset="0.163" stop-color="#8cd62d"/><stop offset="0.202" stop-color="#64d237"/><stop offset="0.241" stop-color="#34d048"/><stop offset="0.280" stop-color="#18cc5a"/><stop offset="0.319" stop-color="#12c664"/><stop offset="0.358" stop-color="#10be6c"/><stop offset="0.397" stop-color="#0fb476"/><stop offset="0.436" stop-color="#0faa80"/><stop offset="0.475" stop-color="#0fa386"/><stop offset="0.514" stop-color="#0f9c8b"/><stop offset="0.553" stop-color="#109491"/><stop offset="0.591" stop-color="#12889b"/><stop offset="0.630" stop-color="#147e9e"/><stop offset="0.669" stop-color="#16749e"/><stop offset="0.708" stop-color="#1a6a9e"/><stop offset="0.747" stop-color="#2862a0"/><stop offset="0.786" stop-color="#3758a0"/><stop offset="0.825" stop-color="#444b9e"/><stop offset="0.864" stop-color="#503c96"/><stop offset="0.903" stop-color="#5a2a8c"/><stop offset="0.942" stop-color="#581482"/><stop offset="1.000" stop-color="#4b0070"/></linearGradient>
<rect x="684.45" y="432.15" width="19" height="57.8" fill="url(#gc)" stroke="#000" stroke-width="1.7"/>
<path d="M684.6 441.2h3M703.3 441.2h-3M684.6 463.8h3M703.3 463.8h-3M684.6 486.4h3M703.3 486.4h-3" stroke="#000" stroke-width="1.6" fill="none"/>
<text x="710.6" y="445.1" font-size="12" font-family="Liberation Sans, sans-serif">0.5</text>
<text x="710.6" y="467.7" font-size="12" font-family="Liberation Sans, sans-serif">0</text>
<text x="710.6" y="490.5" font-size="12" font-family="Liberation Sans, sans-serif">-0.5</text>
<linearGradient id="gd" x1="0" y1="0" x2="0" y2="1"><stop offset="0.000" stop-color="#f0f000"/><stop offset="0.040" stop-color="#ffe400"/><stop offset="0.080" stop-color="#ffd800"/><stop offset="0.120" stop-color="#ffc810"/><stop offset="0.160" stop-color="#ffb810"/><stop offset="0.200" stop-color="#ffa528"/><stop offset="0.240" stop-color="#ff9a30"/><stop offset="0.280" stop-color="#ff9040"/><stop offset="0.320" stop-color="#fb8050"/><stop offset="0.360" stop-color="#fa7060"/><stop offset="0.400" stop-color="#f86070"/><stop offset="0.460" stop-color="#f05080"/><stop offset="0.520" stop-color="#e84090"/><stop offset="0.580" stop-color="#d828a0"/><stop offset="0.640" stop-color="#c020a8"/><stop offset="0.700" stop-color="#a010b8"/><stop offset="0.760" stop-color="#8010c0"/><stop offset="0.820" stop-color="#6a10b8"/><stop offset="0.880" stop-color="#4a0aa8"/><stop offset="0.940" stop-color="#2a0898"/><stop offset="1.000" stop-color="#100890"/></linearGradient>
<rect x="686.45" y="587.55" width="18" height="57.8" fill="url(#gd)" stroke="#000" stroke-width="1.7"/>
<path d="M686.6 610.7h3M704.3 610.7h-3M686.6 634.5h3M704.3 634.5h-3" stroke="#000" stroke-width="1.6" fill="none"/>
<text x="711.6" y="591.1" font-size="12" font-family="Liberation Sans, sans-serif">0.05</text>
<text x="711.6" y="614.9" font-size="12" font-family="Liberation Sans, sans-serif">0.03</text>
<text x="711.6" y="638.8" font-size="12" font-family="Liberation Sans, sans-serif">0.01</text>
<path d="M97.5 682.4V689.8H124.7V682.4" stroke="#000" stroke-width="1.2" fill="none"/>
<text transform="translate(85 697.4) rotate(-90)" text-anchor="end" font-size="12.8" font-weight="bold" font-family="Liberation Sans, sans-serif">T.D</text>
<text transform="translate(100.9 697.4) rotate(-90)" text-anchor="end" font-size="12.8" font-weight="bold" font-family="Liberation Sans, sans-serif">T.I</text>
<text transform="translate(117.1 697.4) rotate(-90)" text-anchor="end" font-size="12.8" font-weight="bold" font-family="Liberation Sans, sans-serif">T.P</text>
<text transform="translate(133.2 697.4) rotate(-90)" text-anchor="end" font-size="12.8" font-weight="bold" font-family="Liberation Sans, sans-serif">T.M</text>
<text transform="translate(149.7 697.4) rotate(-90)" text-anchor="end" font-size="12.8" font-weight="bold" font-family="Liberation Sans, sans-serif">Wrist</text>
</svg>
</body></html>
